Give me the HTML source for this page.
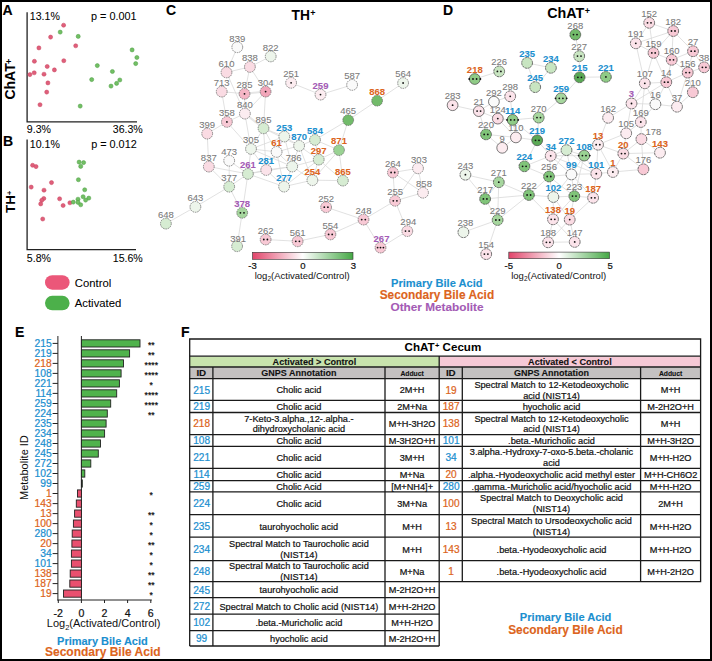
<!DOCTYPE html>
<html><head><meta charset="utf-8"><style>
html,body{margin:0;padding:0;background:#fff;}
svg{display:block;font-family:"Liberation Sans", sans-serif;}
</style></head><body>
<svg width="712" height="661" viewBox="0 0 712 661">
<rect width="712" height="661" fill="#fff"/>
<text x="2.6" y="15.0" font-size="14" fill="#000" stroke="#000" stroke-width="0.12" text-anchor="start" font-weight="bold" >A</text>
<text x="3.0" y="146.0" font-size="14" fill="#000" stroke="#000" stroke-width="0.12" text-anchor="start" font-weight="bold" >B</text>
<text x="166.0" y="15.0" font-size="14" fill="#000" stroke="#000" stroke-width="0.12" text-anchor="start" font-weight="bold" >C</text>
<text x="443.0" y="15.0" font-size="14" fill="#000" stroke="#000" stroke-width="0.12" text-anchor="start" font-weight="bold" >D</text>
<text x="15.0" y="337.0" font-size="14" fill="#000" stroke="#000" stroke-width="0.12" text-anchor="start" font-weight="bold" >E</text>
<text x="181.0" y="337.0" font-size="14" fill="#000" stroke="#000" stroke-width="0.12" text-anchor="start" font-weight="bold" >F</text>
<g stroke="#222" stroke-width="1.3" fill="none">
<polyline points="27.1,12.2 27.1,121.8 137,121.8"/>
<polyline points="27.1,139.6 27.1,249.6 136,249.6"/>
</g>
<text x="29.8" y="19.9" font-size="10.6" fill="#000" stroke="#000" stroke-width="0.06" text-anchor="start" font-weight="normal" >13.1%</text>
<text x="91.0" y="19.9" font-size="10.85" fill="#000" stroke="#000" stroke-width="0.06" text-anchor="start" font-weight="normal" >p = 0.001</text>
<text x="26.8" y="132.9" font-size="10.6" fill="#000" stroke="#000" stroke-width="0.06" text-anchor="start" font-weight="normal" >9.3%</text>
<text x="142.8" y="132.9" font-size="10.6" fill="#000" stroke="#000" stroke-width="0.06" text-anchor="end" font-weight="normal" >36.3%</text>
<text x="29.8" y="147.9" font-size="10.6" fill="#000" stroke="#000" stroke-width="0.06" text-anchor="start" font-weight="normal" >10.1%</text>
<text x="91.2" y="147.9" font-size="10.85" fill="#000" stroke="#000" stroke-width="0.06" text-anchor="start" font-weight="normal" >p = 0.012</text>
<text x="26.8" y="261.6" font-size="10.6" fill="#000" stroke="#000" stroke-width="0.06" text-anchor="start" font-weight="normal" >5.8%</text>
<text x="142.8" y="261.6" font-size="10.6" fill="#000" stroke="#000" stroke-width="0.06" text-anchor="end" font-weight="normal" >15.6%</text>
<text transform="translate(15.3,99.6) rotate(-90)" font-size="14" font-weight="bold">ChAT<tspan font-size="9" dy="-3.6" dx="-0.6">+</tspan></text>
<text transform="translate(14.9,212.9) rotate(-90)" font-size="13.4" font-weight="bold">TH<tspan font-size="8" dy="-3.3" dx="-0.3">+</tspan></text>
<circle cx="63.6" cy="25.2" r="2.05" fill="#df5f7b" stroke="#c9445f" stroke-width="0.5"/>
<circle cx="50.6" cy="37.1" r="2.05" fill="#df5f7b" stroke="#c9445f" stroke-width="0.5"/>
<circle cx="38.9" cy="47.9" r="2.05" fill="#df5f7b" stroke="#c9445f" stroke-width="0.5"/>
<circle cx="75.7" cy="45.8" r="2.05" fill="#df5f7b" stroke="#c9445f" stroke-width="0.5"/>
<circle cx="34.4" cy="61.3" r="2.05" fill="#df5f7b" stroke="#c9445f" stroke-width="0.5"/>
<circle cx="63.8" cy="60.7" r="2.05" fill="#df5f7b" stroke="#c9445f" stroke-width="0.5"/>
<circle cx="47.2" cy="66.5" r="2.05" fill="#df5f7b" stroke="#c9445f" stroke-width="0.5"/>
<circle cx="54.4" cy="69.9" r="2.05" fill="#df5f7b" stroke="#c9445f" stroke-width="0.5"/>
<circle cx="29.9" cy="74.6" r="2.05" fill="#df5f7b" stroke="#c9445f" stroke-width="0.5"/>
<circle cx="34.2" cy="72.8" r="2.05" fill="#df5f7b" stroke="#c9445f" stroke-width="0.5"/>
<circle cx="44.0" cy="74.2" r="2.05" fill="#df5f7b" stroke="#c9445f" stroke-width="0.5"/>
<circle cx="47.9" cy="82.9" r="2.05" fill="#df5f7b" stroke="#c9445f" stroke-width="0.5"/>
<circle cx="46.7" cy="92.1" r="2.05" fill="#df5f7b" stroke="#c9445f" stroke-width="0.5"/>
<circle cx="40.0" cy="104.7" r="2.05" fill="#df5f7b" stroke="#c9445f" stroke-width="0.5"/>
<circle cx="60.2" cy="32.1" r="2.05" fill="#72bf64" stroke="#4d9c44" stroke-width="0.5"/>
<circle cx="78.2" cy="36.4" r="2.05" fill="#72bf64" stroke="#4d9c44" stroke-width="0.5"/>
<circle cx="132.1" cy="49.9" r="2.05" fill="#72bf64" stroke="#4d9c44" stroke-width="0.5"/>
<circle cx="136.9" cy="57.5" r="2.05" fill="#72bf64" stroke="#4d9c44" stroke-width="0.5"/>
<circle cx="135.7" cy="63.6" r="2.05" fill="#72bf64" stroke="#4d9c44" stroke-width="0.5"/>
<circle cx="97.3" cy="65.6" r="2.05" fill="#72bf64" stroke="#4d9c44" stroke-width="0.5"/>
<circle cx="112.4" cy="71.5" r="2.05" fill="#72bf64" stroke="#4d9c44" stroke-width="0.5"/>
<circle cx="91.7" cy="79.6" r="2.05" fill="#72bf64" stroke="#4d9c44" stroke-width="0.5"/>
<circle cx="119.8" cy="80.0" r="2.05" fill="#72bf64" stroke="#4d9c44" stroke-width="0.5"/>
<circle cx="116.6" cy="83.4" r="2.05" fill="#72bf64" stroke="#4d9c44" stroke-width="0.5"/>
<circle cx="111.0" cy="86.1" r="2.05" fill="#72bf64" stroke="#4d9c44" stroke-width="0.5"/>
<circle cx="80.2" cy="106.1" r="2.05" fill="#72bf64" stroke="#4d9c44" stroke-width="0.5"/>
<circle cx="32.6" cy="165.3" r="2.05" fill="#df5f7b" stroke="#c9445f" stroke-width="0.5"/>
<circle cx="36.0" cy="166.6" r="2.05" fill="#df5f7b" stroke="#c9445f" stroke-width="0.5"/>
<circle cx="31.2" cy="187.1" r="2.05" fill="#df5f7b" stroke="#c9445f" stroke-width="0.5"/>
<circle cx="51.5" cy="182.6" r="2.05" fill="#df5f7b" stroke="#c9445f" stroke-width="0.5"/>
<circle cx="44.0" cy="190.2" r="2.05" fill="#df5f7b" stroke="#c9445f" stroke-width="0.5"/>
<circle cx="43.8" cy="198.5" r="2.05" fill="#df5f7b" stroke="#c9445f" stroke-width="0.5"/>
<circle cx="41.8" cy="200.3" r="2.05" fill="#df5f7b" stroke="#c9445f" stroke-width="0.5"/>
<circle cx="40.7" cy="203.9" r="2.05" fill="#df5f7b" stroke="#c9445f" stroke-width="0.5"/>
<circle cx="59.6" cy="198.8" r="2.05" fill="#df5f7b" stroke="#c9445f" stroke-width="0.5"/>
<circle cx="63.1" cy="205.5" r="2.05" fill="#df5f7b" stroke="#c9445f" stroke-width="0.5"/>
<circle cx="69.9" cy="202.8" r="2.05" fill="#df5f7b" stroke="#c9445f" stroke-width="0.5"/>
<circle cx="42.7" cy="219.0" r="2.05" fill="#df5f7b" stroke="#c9445f" stroke-width="0.5"/>
<circle cx="79.1" cy="162.1" r="2.05" fill="#72bf64" stroke="#4d9c44" stroke-width="0.5"/>
<circle cx="83.6" cy="162.6" r="2.05" fill="#72bf64" stroke="#4d9c44" stroke-width="0.5"/>
<circle cx="80.7" cy="166.4" r="2.05" fill="#72bf64" stroke="#4d9c44" stroke-width="0.5"/>
<circle cx="78.4" cy="179.7" r="2.05" fill="#72bf64" stroke="#4d9c44" stroke-width="0.5"/>
<circle cx="84.7" cy="189.8" r="2.05" fill="#72bf64" stroke="#4d9c44" stroke-width="0.5"/>
<circle cx="83.1" cy="196.7" r="2.05" fill="#72bf64" stroke="#4d9c44" stroke-width="0.5"/>
<circle cx="88.8" cy="198.1" r="2.05" fill="#72bf64" stroke="#4d9c44" stroke-width="0.5"/>
<circle cx="85.6" cy="200.1" r="2.05" fill="#72bf64" stroke="#4d9c44" stroke-width="0.5"/>
<circle cx="78.0" cy="199.2" r="2.05" fill="#72bf64" stroke="#4d9c44" stroke-width="0.5"/>
<circle cx="73.3" cy="202.1" r="2.05" fill="#72bf64" stroke="#4d9c44" stroke-width="0.5"/>
<circle cx="78.0" cy="202.4" r="2.05" fill="#72bf64" stroke="#4d9c44" stroke-width="0.5"/>
<circle cx="80.7" cy="204.8" r="2.05" fill="#72bf64" stroke="#4d9c44" stroke-width="0.5"/>
<rect x="45" y="275.2" width="24.6" height="14.5" rx="7.25" fill="#eb5779"/>
<rect x="45" y="295.8" width="24.6" height="14.5" rx="7.25" fill="#4cb04a"/>
<text x="74.8" y="287.3" font-size="11.3" fill="#000" stroke="#000" stroke-width="0.06" text-anchor="start" font-weight="normal" >Control</text>
<text x="74.8" y="307.3" font-size="11.3" fill="#000" stroke="#000" stroke-width="0.06" text-anchor="start" font-weight="normal" >Activated</text>
<g stroke="#d9d9d9" stroke-width="0.8" fill="none">
<line x1="237.3" y1="47.2" x2="226.5" y2="72.4"/>
<line x1="249.9" y1="66.9" x2="270.7" y2="56.4"/>
<line x1="249.9" y1="66.9" x2="226.5" y2="72.4"/>
<line x1="249.9" y1="66.9" x2="244.5" y2="93.8"/>
<line x1="249.9" y1="66.9" x2="265.6" y2="91.6"/>
<line x1="226.5" y1="72.4" x2="244.9" y2="113.6"/>
<line x1="221.7" y1="91.6" x2="244.5" y2="93.8"/>
<line x1="221.7" y1="91.6" x2="226.9" y2="121.9"/>
<line x1="244.5" y1="93.8" x2="265.6" y2="91.6" stroke-width="2" stroke="#e6e6e6"/>
<line x1="244.5" y1="93.8" x2="244.9" y2="113.6"/>
<line x1="265.6" y1="91.6" x2="244.9" y2="113.6"/>
<line x1="265.6" y1="91.6" x2="263.5" y2="128.3"/>
<line x1="244.9" y1="113.6" x2="226.9" y2="121.9"/>
<line x1="244.9" y1="113.6" x2="263.5" y2="128.3" stroke-width="2" stroke="#e6e6e6"/>
<line x1="226.9" y1="121.9" x2="207.2" y2="133.6"/>
<line x1="226.9" y1="121.9" x2="251.0" y2="148.9"/>
<line x1="207.2" y1="133.6" x2="208.8" y2="166.6"/>
<line x1="208.8" y1="166.6" x2="247.9" y2="173.9"/>
<line x1="208.8" y1="166.6" x2="229.2" y2="186.7"/>
<line x1="229.2" y1="160.7" x2="229.2" y2="186.7"/>
<line x1="229.2" y1="160.7" x2="247.9" y2="173.9"/>
<line x1="229.2" y1="186.7" x2="247.9" y2="173.9"/>
<line x1="229.2" y1="186.7" x2="195.4" y2="206.9"/>
<line x1="229.2" y1="186.7" x2="242.2" y2="212.8"/>
<line x1="195.4" y1="206.9" x2="165.9" y2="223.6"/>
<line x1="242.2" y1="212.8" x2="247.9" y2="173.9"/>
<line x1="242.2" y1="212.8" x2="237.1" y2="246.2"/>
<line x1="247.9" y1="173.9" x2="251.0" y2="148.9"/>
<line x1="247.9" y1="173.9" x2="266.2" y2="170.0"/>
<line x1="247.9" y1="173.9" x2="284.1" y2="186.6"/>
<line x1="251.0" y1="148.9" x2="263.5" y2="128.3"/>
<line x1="251.0" y1="148.9" x2="276.6" y2="151.9"/>
<line x1="251.0" y1="148.9" x2="266.2" y2="170.0"/>
<line x1="251.0" y1="148.9" x2="284.3" y2="136.5"/>
<line x1="263.5" y1="128.3" x2="284.3" y2="136.5"/>
<line x1="263.5" y1="128.3" x2="276.6" y2="151.9"/>
<line x1="263.5" y1="128.3" x2="299.1" y2="145.8"/>
<line x1="284.3" y1="136.5" x2="299.1" y2="145.8"/>
<line x1="284.3" y1="136.5" x2="276.6" y2="151.9"/>
<line x1="284.3" y1="136.5" x2="292.2" y2="166.5"/>
<line x1="284.3" y1="136.5" x2="266.2" y2="170.0"/>
<line x1="276.6" y1="151.9" x2="299.1" y2="145.8"/>
<line x1="276.6" y1="151.9" x2="266.2" y2="170.0"/>
<line x1="276.6" y1="151.9" x2="292.2" y2="166.5"/>
<line x1="276.6" y1="151.9" x2="284.1" y2="186.6"/>
<line x1="266.2" y1="170.0" x2="292.2" y2="166.5"/>
<line x1="266.2" y1="170.0" x2="284.1" y2="186.6"/>
<line x1="292.2" y1="166.5" x2="299.1" y2="145.8"/>
<line x1="292.2" y1="166.5" x2="284.1" y2="186.6"/>
<line x1="292.2" y1="166.5" x2="318.7" y2="159.6"/>
<line x1="292.2" y1="166.5" x2="312.4" y2="180.2"/>
<line x1="299.1" y1="145.8" x2="315.0" y2="139.9"/>
<line x1="299.1" y1="145.8" x2="318.7" y2="159.6"/>
<line x1="299.1" y1="145.8" x2="312.4" y2="180.2"/>
<line x1="315.0" y1="139.9" x2="318.7" y2="159.6"/>
<line x1="315.0" y1="139.9" x2="348.2" y2="120.1"/>
<line x1="315.0" y1="139.9" x2="339.0" y2="150.1"/>
<line x1="348.2" y1="120.1" x2="339.0" y2="150.1"/>
<line x1="348.2" y1="120.1" x2="377.1" y2="100.7"/>
<line x1="377.1" y1="100.7" x2="403.1" y2="83.0"/>
<line x1="339.0" y1="150.1" x2="318.7" y2="159.6"/>
<line x1="339.0" y1="150.1" x2="342.9" y2="180.6"/>
<line x1="339.0" y1="150.1" x2="312.4" y2="180.2"/>
<line x1="318.7" y1="159.6" x2="312.4" y2="180.2"/>
<line x1="318.7" y1="159.6" x2="342.9" y2="180.6"/>
<line x1="312.4" y1="180.2" x2="342.9" y2="180.6"/>
<line x1="312.4" y1="180.2" x2="284.1" y2="186.6"/>
<line x1="284.1" y1="186.6" x2="318.7" y2="159.6"/>
<line x1="247.9" y1="173.9" x2="292.2" y2="166.5"/>
<line x1="251.0" y1="148.9" x2="292.2" y2="166.5"/>
<line x1="263.5" y1="128.3" x2="266.2" y2="170.0"/>
<line x1="244.9" y1="113.6" x2="251.0" y2="148.9"/>
<line x1="291.1" y1="82.8" x2="320.5" y2="94.6"/>
<line x1="320.5" y1="94.6" x2="352.1" y2="84.9"/>
<line x1="265.6" y1="239.5" x2="297.6" y2="241.3"/>
<line x1="297.6" y1="241.3" x2="330.4" y2="234.4"/>
<line x1="330.4" y1="234.4" x2="363.5" y2="219.6"/>
<line x1="363.5" y1="219.6" x2="326.1" y2="207.2"/>
<line x1="363.5" y1="219.6" x2="395.1" y2="200.8"/>
<line x1="363.5" y1="219.6" x2="380.5" y2="247.6"/>
<line x1="380.5" y1="247.6" x2="407.3" y2="231.1"/>
<line x1="407.3" y1="231.1" x2="395.1" y2="200.8"/>
<line x1="395.1" y1="200.8" x2="392.9" y2="172.5"/>
<line x1="395.1" y1="200.8" x2="418.0" y2="168.3"/>
<line x1="395.1" y1="200.8" x2="423.0" y2="192.7"/>
<line x1="392.9" y1="172.5" x2="418.0" y2="168.3"/>
<line x1="392.9" y1="172.5" x2="423.0" y2="192.7"/>
<line x1="418.0" y1="168.3" x2="423.0" y2="192.7"/>
</g>
<circle cx="237.3" cy="47.2" r="5.4" fill="#fafafa" stroke="#555" stroke-width="0.65" stroke-dasharray="1.6 0.8"/>
<text x="237.3" y="41.5" font-size="9.5" fill="#7a7a7a" stroke="#7a7a7a" stroke-width="0.08" text-anchor="middle" font-weight="normal" >839</text>
<circle cx="270.7" cy="56.4" r="5.4" fill="#edf5eb" stroke="#555" stroke-width="0.65" stroke-dasharray="1.6 0.8"/>
<text x="270.7" y="50.7" font-size="9.5" fill="#7a7a7a" stroke="#7a7a7a" stroke-width="0.08" text-anchor="middle" font-weight="normal" >822</text>
<circle cx="249.9" cy="66.9" r="5.4" fill="#fadbe3" stroke="#555" stroke-width="0.65" stroke-dasharray="1.6 0.8"/>
<text x="249.9" y="61.2" font-size="9.5" fill="#7a7a7a" stroke="#7a7a7a" stroke-width="0.08" text-anchor="middle" font-weight="normal" >838</text>
<circle cx="226.5" cy="72.4" r="5.4" fill="#fadbe3" stroke="#555" stroke-width="0.65" stroke-dasharray="1.6 0.8"/>
<text x="226.5" y="66.7" font-size="9.5" fill="#7a7a7a" stroke="#7a7a7a" stroke-width="0.08" text-anchor="middle" font-weight="normal" >610</text>
<circle cx="291.1" cy="82.8" r="5.4" fill="#fcecf0" stroke="#555" stroke-width="0.65" stroke-dasharray="1.6 0.8"/>
<circle cx="291.1" cy="82.8" r="0.9" fill="#111"/>
<text x="291.1" y="77.1" font-size="9.5" fill="#7a7a7a" stroke="#7a7a7a" stroke-width="0.08" text-anchor="middle" font-weight="normal" >251</text>
<circle cx="221.7" cy="91.6" r="5.4" fill="#fadbe3" stroke="#555" stroke-width="0.65" stroke-dasharray="1.6 0.8"/>
<text x="221.7" y="85.9" font-size="9.5" fill="#7a7a7a" stroke="#7a7a7a" stroke-width="0.08" text-anchor="middle" font-weight="normal" >713</text>
<circle cx="244.5" cy="93.8" r="5.4" fill="#f5b5c5" stroke="#555" stroke-width="0.65" stroke-dasharray="1.6 0.8"/>
<circle cx="244.5" cy="93.8" r="0.9" fill="#111"/>
<text x="244.5" y="88.1" font-size="9.5" fill="#7a7a7a" stroke="#7a7a7a" stroke-width="0.08" text-anchor="middle" font-weight="normal" >285</text>
<circle cx="265.6" cy="91.6" r="5.4" fill="#f2a6ba" stroke="#555" stroke-width="0.65" stroke-dasharray="1.6 0.8"/>
<circle cx="265.6" cy="91.6" r="0.9" fill="#111"/>
<text x="265.6" y="85.9" font-size="9.5" fill="#7a7a7a" stroke="#7a7a7a" stroke-width="0.08" text-anchor="middle" font-weight="normal" >304</text>
<circle cx="244.9" cy="113.6" r="5.4" fill="#fcecf0" stroke="#555" stroke-width="0.65" stroke-dasharray="1.6 0.8"/>
<text x="244.9" y="107.9" font-size="9.5" fill="#7a7a7a" stroke="#7a7a7a" stroke-width="0.08" text-anchor="middle" font-weight="normal" >840</text>
<circle cx="226.9" cy="121.9" r="5.4" fill="#f8c9d5" stroke="#555" stroke-width="0.65" stroke-dasharray="1.6 0.8"/>
<circle cx="226.9" cy="121.9" r="0.9" fill="#111"/>
<text x="226.9" y="116.2" font-size="9.5" fill="#7a7a7a" stroke="#7a7a7a" stroke-width="0.08" text-anchor="middle" font-weight="normal" >358</text>
<circle cx="263.5" cy="128.3" r="5.4" fill="#d6ecd2" stroke="#555" stroke-width="0.65" stroke-dasharray="1.6 0.8"/>
<text x="263.5" y="122.6" font-size="9.5" fill="#7a7a7a" stroke="#7a7a7a" stroke-width="0.08" text-anchor="middle" font-weight="normal" >895</text>
<circle cx="207.2" cy="133.6" r="5.4" fill="#fadbe3" stroke="#555" stroke-width="0.65" stroke-dasharray="1.6 0.8"/>
<text x="207.2" y="127.9" font-size="9.5" fill="#7a7a7a" stroke="#7a7a7a" stroke-width="0.08" text-anchor="middle" font-weight="normal" >399</text>
<circle cx="284.3" cy="136.5" r="5.4" fill="#edf5eb" stroke="#555" stroke-width="0.65" stroke-dasharray="1.6 0.8"/>
<text x="284.3" y="130.8" font-size="9.5" fill="#1b8fcf" stroke="#1b8fcf" stroke-width="0.08" text-anchor="middle" font-weight="bold" >253</text>
<circle cx="299.1" cy="145.8" r="5.4" fill="#edf5eb" stroke="#555" stroke-width="0.65" stroke-dasharray="1.6 0.8"/>
<text x="299.1" y="140.1" font-size="9.5" fill="#1b8fcf" stroke="#1b8fcf" stroke-width="0.08" text-anchor="middle" font-weight="bold" >870</text>
<circle cx="251.0" cy="148.9" r="5.4" fill="#edf5eb" stroke="#555" stroke-width="0.65" stroke-dasharray="1.6 0.8"/>
<text x="251.0" y="143.2" font-size="9.5" fill="#7a7a7a" stroke="#7a7a7a" stroke-width="0.08" text-anchor="middle" font-weight="normal" >305</text>
<circle cx="276.6" cy="151.9" r="5.4" fill="#fafafa" stroke="#555" stroke-width="0.65" stroke-dasharray="1.6 0.8"/>
<text x="276.6" y="146.2" font-size="9.5" fill="#dc6420" stroke="#dc6420" stroke-width="0.08" text-anchor="middle" font-weight="bold" >61</text>
<circle cx="229.2" cy="160.7" r="5.4" fill="#fafafa" stroke="#555" stroke-width="0.65" stroke-dasharray="1.6 0.8"/>
<text x="229.2" y="155.0" font-size="9.5" fill="#7a7a7a" stroke="#7a7a7a" stroke-width="0.08" text-anchor="middle" font-weight="normal" >473</text>
<circle cx="208.8" cy="166.6" r="5.4" fill="#fadbe3" stroke="#555" stroke-width="0.65" stroke-dasharray="1.6 0.8"/>
<text x="208.8" y="160.9" font-size="9.5" fill="#7a7a7a" stroke="#7a7a7a" stroke-width="0.08" text-anchor="middle" font-weight="normal" >837</text>
<circle cx="247.9" cy="173.9" r="5.4" fill="#d6ecd2" stroke="#555" stroke-width="0.65" stroke-dasharray="1.6 0.8"/>
<text x="247.9" y="168.2" font-size="9.5" fill="#a45bb5" stroke="#a45bb5" stroke-width="0.08" text-anchor="middle" font-weight="bold" >261</text>
<circle cx="266.2" cy="170.0" r="5.4" fill="#fbe3ea" stroke="#555" stroke-width="0.65" stroke-dasharray="1.6 0.8"/>
<text x="266.2" y="164.3" font-size="9.5" fill="#1b8fcf" stroke="#1b8fcf" stroke-width="0.08" text-anchor="middle" font-weight="bold" >281</text>
<circle cx="292.2" cy="166.5" r="5.4" fill="#edf5eb" stroke="#555" stroke-width="0.65" stroke-dasharray="1.6 0.8"/>
<text x="293.7" y="160.8" font-size="9.5" fill="#7a7a7a" stroke="#7a7a7a" stroke-width="0.08" text-anchor="middle" font-weight="normal" >786</text>
<circle cx="229.2" cy="186.7" r="5.4" fill="#d6ecd2" stroke="#555" stroke-width="0.65" stroke-dasharray="1.6 0.8"/>
<text x="229.2" y="181.0" font-size="9.5" fill="#7a7a7a" stroke="#7a7a7a" stroke-width="0.08" text-anchor="middle" font-weight="normal" >377</text>
<circle cx="284.1" cy="186.6" r="5.4" fill="#edf5eb" stroke="#555" stroke-width="0.65" stroke-dasharray="1.6 0.8"/>
<text x="284.1" y="180.9" font-size="9.5" fill="#1b8fcf" stroke="#1b8fcf" stroke-width="0.08" text-anchor="middle" font-weight="bold" >277</text>
<circle cx="195.4" cy="206.9" r="5.4" fill="#edf5eb" stroke="#555" stroke-width="0.65" stroke-dasharray="1.6 0.8"/>
<text x="195.4" y="201.2" font-size="9.5" fill="#7a7a7a" stroke="#7a7a7a" stroke-width="0.08" text-anchor="middle" font-weight="normal" >643</text>
<circle cx="242.2" cy="212.8" r="5.4" fill="#a6d69e" stroke="#555" stroke-width="0.65" stroke-dasharray="1.6 0.8"/>
<circle cx="240.4" cy="212.8" r="0.9" fill="#111"/>
<circle cx="244.0" cy="212.8" r="0.9" fill="#111"/>
<text x="242.2" y="207.1" font-size="9.5" fill="#a45bb5" stroke="#a45bb5" stroke-width="0.08" text-anchor="middle" font-weight="bold" >378</text>
<circle cx="165.9" cy="223.6" r="5.4" fill="#d6ecd2" stroke="#555" stroke-width="0.65" stroke-dasharray="1.6 0.8"/>
<text x="165.9" y="217.9" font-size="9.5" fill="#7a7a7a" stroke="#7a7a7a" stroke-width="0.08" text-anchor="middle" font-weight="normal" >648</text>
<circle cx="237.1" cy="246.2" r="5.4" fill="#d6ecd2" stroke="#555" stroke-width="0.65" stroke-dasharray="1.6 0.8"/>
<text x="238.1" y="241.5" font-size="9.5" fill="#7a7a7a" stroke="#7a7a7a" stroke-width="0.08" text-anchor="middle" font-weight="normal" >391</text>
<circle cx="265.6" cy="239.5" r="5.4" fill="#f8c9d5" stroke="#555" stroke-width="0.65" stroke-dasharray="1.6 0.8"/>
<circle cx="263.8" cy="239.5" r="0.9" fill="#111"/>
<circle cx="267.4" cy="239.5" r="0.9" fill="#111"/>
<text x="265.6" y="233.8" font-size="9.5" fill="#7a7a7a" stroke="#7a7a7a" stroke-width="0.08" text-anchor="middle" font-weight="normal" >262</text>
<circle cx="297.6" cy="241.3" r="5.4" fill="#f8c9d5" stroke="#555" stroke-width="0.65" stroke-dasharray="1.6 0.8"/>
<circle cx="295.8" cy="241.3" r="0.9" fill="#111"/>
<circle cx="299.4" cy="241.3" r="0.9" fill="#111"/>
<text x="297.6" y="235.6" font-size="9.5" fill="#7a7a7a" stroke="#7a7a7a" stroke-width="0.08" text-anchor="middle" font-weight="normal" >561</text>
<circle cx="330.4" cy="234.4" r="5.4" fill="#f8c9d5" stroke="#555" stroke-width="0.65" stroke-dasharray="1.6 0.8"/>
<circle cx="328.6" cy="234.4" r="0.9" fill="#111"/>
<circle cx="332.2" cy="234.4" r="0.9" fill="#111"/>
<text x="330.4" y="228.7" font-size="9.5" fill="#7a7a7a" stroke="#7a7a7a" stroke-width="0.08" text-anchor="middle" font-weight="normal" >554</text>
<circle cx="326.1" cy="207.2" r="5.4" fill="#f8c9d5" stroke="#555" stroke-width="0.65" stroke-dasharray="1.6 0.8"/>
<circle cx="324.3" cy="207.2" r="0.9" fill="#111"/>
<circle cx="327.9" cy="207.2" r="0.9" fill="#111"/>
<text x="326.1" y="201.5" font-size="9.5" fill="#7a7a7a" stroke="#7a7a7a" stroke-width="0.08" text-anchor="middle" font-weight="normal" >252</text>
<circle cx="363.5" cy="219.6" r="5.4" fill="#f8c9d5" stroke="#555" stroke-width="0.65" stroke-dasharray="1.6 0.8"/>
<circle cx="361.7" cy="219.6" r="0.9" fill="#111"/>
<circle cx="365.3" cy="219.6" r="0.9" fill="#111"/>
<text x="363.5" y="213.9" font-size="9.5" fill="#7a7a7a" stroke="#7a7a7a" stroke-width="0.08" text-anchor="middle" font-weight="normal" >248</text>
<circle cx="380.5" cy="247.6" r="5.4" fill="#f8c9d5" stroke="#555" stroke-width="0.65" stroke-dasharray="1.6 0.8"/>
<circle cx="377.6" cy="247.6" r="0.9" fill="#111"/>
<circle cx="380.5" cy="247.6" r="0.9" fill="#111"/>
<circle cx="383.4" cy="247.6" r="0.9" fill="#111"/>
<text x="381.5" y="241.9" font-size="9.5" fill="#a45bb5" stroke="#a45bb5" stroke-width="0.08" text-anchor="middle" font-weight="bold" >267</text>
<circle cx="407.3" cy="231.1" r="5.4" fill="#fadbe3" stroke="#555" stroke-width="0.65" stroke-dasharray="1.6 0.8"/>
<circle cx="405.5" cy="231.1" r="0.9" fill="#111"/>
<circle cx="409.1" cy="231.1" r="0.9" fill="#111"/>
<text x="408.3" y="225.4" font-size="9.5" fill="#7a7a7a" stroke="#7a7a7a" stroke-width="0.08" text-anchor="middle" font-weight="normal" >294</text>
<circle cx="395.1" cy="200.8" r="5.4" fill="#f8c9d5" stroke="#555" stroke-width="0.65" stroke-dasharray="1.6 0.8"/>
<circle cx="393.3" cy="200.8" r="0.9" fill="#111"/>
<circle cx="396.9" cy="200.8" r="0.9" fill="#111"/>
<text x="395.1" y="195.1" font-size="9.5" fill="#7a7a7a" stroke="#7a7a7a" stroke-width="0.08" text-anchor="middle" font-weight="normal" >255</text>
<circle cx="392.9" cy="172.5" r="5.4" fill="#f8c9d5" stroke="#555" stroke-width="0.65" stroke-dasharray="1.6 0.8"/>
<circle cx="391.1" cy="172.5" r="0.9" fill="#111"/>
<circle cx="394.7" cy="172.5" r="0.9" fill="#111"/>
<text x="392.9" y="166.8" font-size="9.5" fill="#7a7a7a" stroke="#7a7a7a" stroke-width="0.08" text-anchor="middle" font-weight="normal" >264</text>
<circle cx="418.0" cy="168.3" r="5.4" fill="#fcecf0" stroke="#555" stroke-width="0.65" stroke-dasharray="1.6 0.8"/>
<text x="419.0" y="162.6" font-size="9.5" fill="#7a7a7a" stroke="#7a7a7a" stroke-width="0.08" text-anchor="middle" font-weight="normal" >303</text>
<circle cx="423.0" cy="192.7" r="5.4" fill="#fcecf0" stroke="#555" stroke-width="0.65" stroke-dasharray="1.6 0.8"/>
<text x="424.0" y="187.0" font-size="9.5" fill="#7a7a7a" stroke="#7a7a7a" stroke-width="0.08" text-anchor="middle" font-weight="normal" >858</text>
<circle cx="320.5" cy="94.6" r="5.4" fill="#fcecf0" stroke="#555" stroke-width="0.65" stroke-dasharray="1.6 0.8"/>
<circle cx="320.5" cy="94.6" r="0.9" fill="#111"/>
<text x="320.5" y="88.9" font-size="9.5" fill="#a45bb5" stroke="#a45bb5" stroke-width="0.08" text-anchor="middle" font-weight="bold" >259</text>
<circle cx="352.1" cy="84.9" r="5.4" fill="#fafafa" stroke="#555" stroke-width="0.65" stroke-dasharray="1.6 0.8"/>
<text x="352.1" y="79.2" font-size="9.5" fill="#7a7a7a" stroke="#7a7a7a" stroke-width="0.08" text-anchor="middle" font-weight="normal" >587</text>
<circle cx="403.1" cy="83.0" r="5.4" fill="#edf5eb" stroke="#555" stroke-width="0.65" stroke-dasharray="1.6 0.8"/>
<circle cx="403.1" cy="83.0" r="0.9" fill="#111"/>
<text x="403.1" y="77.3" font-size="9.5" fill="#7a7a7a" stroke="#7a7a7a" stroke-width="0.08" text-anchor="middle" font-weight="normal" >564</text>
<circle cx="377.1" cy="100.7" r="5.4" fill="#72bb6a" stroke="#555" stroke-width="0.65" stroke-dasharray="1.6 0.8"/>
<text x="377.1" y="95.0" font-size="9.5" fill="#dc6420" stroke="#dc6420" stroke-width="0.08" text-anchor="middle" font-weight="bold" >868</text>
<circle cx="348.2" cy="120.1" r="5.4" fill="#72bb6a" stroke="#555" stroke-width="0.65" stroke-dasharray="1.6 0.8"/>
<text x="348.2" y="114.4" font-size="9.5" fill="#7a7a7a" stroke="#7a7a7a" stroke-width="0.08" text-anchor="middle" font-weight="normal" >465</text>
<circle cx="315.0" cy="139.9" r="5.4" fill="#d6ecd2" stroke="#555" stroke-width="0.65" stroke-dasharray="1.6 0.8"/>
<text x="315.0" y="134.2" font-size="9.5" fill="#1b8fcf" stroke="#1b8fcf" stroke-width="0.08" text-anchor="middle" font-weight="bold" >584</text>
<circle cx="339.0" cy="150.1" r="5.4" fill="#9ad293" stroke="#555" stroke-width="0.65" stroke-dasharray="1.6 0.8"/>
<text x="339.0" y="144.4" font-size="9.5" fill="#dc6420" stroke="#dc6420" stroke-width="0.08" text-anchor="middle" font-weight="bold" >871</text>
<circle cx="318.7" cy="159.6" r="5.4" fill="#d6ecd2" stroke="#555" stroke-width="0.65" stroke-dasharray="1.6 0.8"/>
<text x="318.7" y="153.9" font-size="9.5" fill="#dc6420" stroke="#dc6420" stroke-width="0.08" text-anchor="middle" font-weight="bold" >297</text>
<circle cx="312.4" cy="180.2" r="5.4" fill="#edf5eb" stroke="#555" stroke-width="0.65" stroke-dasharray="1.6 0.8"/>
<text x="312.4" y="174.5" font-size="9.5" fill="#dc6420" stroke="#dc6420" stroke-width="0.08" text-anchor="middle" font-weight="bold" >254</text>
<circle cx="342.9" cy="180.6" r="5.4" fill="#d6ecd2" stroke="#555" stroke-width="0.65" stroke-dasharray="1.6 0.8"/>
<text x="342.9" y="174.9" font-size="9.5" fill="#dc6420" stroke="#dc6420" stroke-width="0.08" text-anchor="middle" font-weight="bold" >865</text>
<g stroke="#d9d9d9" stroke-width="0.8" fill="none">
<line x1="575.3" y1="34.6" x2="579.2" y2="56.1"/>
<line x1="579.2" y1="56.1" x2="579.6" y2="77.3"/>
<line x1="579.6" y1="77.3" x2="605.9" y2="76.9"/>
<line x1="579.6" y1="77.3" x2="561.1" y2="98.3"/>
<line x1="527.1" y1="62.9" x2="550.9" y2="67.8"/>
<line x1="527.1" y1="62.9" x2="535.2" y2="87.1"/>
<line x1="550.9" y1="67.8" x2="535.2" y2="87.1"/>
<line x1="499.2" y1="71.4" x2="474.8" y2="79.0"/>
<line x1="452.6" y1="105.2" x2="478.8" y2="111.1"/>
<line x1="478.8" y1="111.1" x2="493.9" y2="101.7"/>
<line x1="478.8" y1="111.1" x2="497.8" y2="118.6"/>
<line x1="478.8" y1="111.1" x2="486.0" y2="134.4"/>
<line x1="493.9" y1="101.7" x2="510.2" y2="96.3"/>
<line x1="493.9" y1="101.7" x2="497.8" y2="118.6"/>
<line x1="510.2" y1="96.3" x2="512.6" y2="119.9"/>
<line x1="497.8" y1="118.6" x2="512.6" y2="119.9"/>
<line x1="497.8" y1="118.6" x2="486.0" y2="134.4"/>
<line x1="497.8" y1="118.6" x2="515.9" y2="137.4"/>
<line x1="512.6" y1="119.9" x2="538.7" y2="117.6"/>
<line x1="512.6" y1="119.9" x2="515.9" y2="137.4"/>
<line x1="512.6" y1="119.9" x2="537.2" y2="140.3"/>
<line x1="486.0" y1="134.4" x2="515.9" y2="137.4"/>
<line x1="486.0" y1="134.4" x2="502.2" y2="147.8"/>
<line x1="515.9" y1="137.4" x2="502.2" y2="147.8"/>
<line x1="515.9" y1="137.4" x2="537.2" y2="140.3"/>
<line x1="538.7" y1="117.6" x2="537.2" y2="140.3"/>
<line x1="538.7" y1="117.6" x2="561.1" y2="98.3"/>
<line x1="537.2" y1="140.3" x2="524.4" y2="166.3"/>
<line x1="465.4" y1="174.7" x2="498.8" y2="182.2"/>
<line x1="465.4" y1="174.7" x2="485.1" y2="198.9"/>
<line x1="498.8" y1="182.2" x2="485.1" y2="198.9"/>
<line x1="498.8" y1="182.2" x2="497.6" y2="220.0"/>
<line x1="498.8" y1="182.2" x2="528.9" y2="195.0"/>
<line x1="485.1" y1="198.9" x2="528.9" y2="195.0"/>
<line x1="485.1" y1="198.9" x2="497.6" y2="220.0"/>
<line x1="528.9" y1="195.0" x2="497.6" y2="220.0"/>
<line x1="528.9" y1="195.0" x2="553.4" y2="197.0"/>
<line x1="528.9" y1="195.0" x2="549.0" y2="176.5"/>
<line x1="528.9" y1="195.0" x2="553.0" y2="219.3"/>
<line x1="497.6" y1="220.0" x2="463.4" y2="232.2"/>
<line x1="497.6" y1="220.0" x2="486.2" y2="254.1"/>
<line x1="553.0" y1="219.3" x2="548.1" y2="242.3"/>
<line x1="553.0" y1="219.3" x2="574.7" y2="241.9"/>
<line x1="569.7" y1="219.6" x2="548.1" y2="242.3"/>
<line x1="569.7" y1="219.6" x2="574.7" y2="241.9"/>
<line x1="548.1" y1="242.3" x2="574.7" y2="241.9"/>
<line x1="524.4" y1="166.3" x2="549.0" y2="176.5"/>
<line x1="550.7" y1="155.8" x2="566.5" y2="150.1"/>
<line x1="550.7" y1="155.8" x2="549.0" y2="176.5"/>
<line x1="550.7" y1="155.8" x2="571.4" y2="174.4"/>
<line x1="550.7" y1="155.8" x2="584.2" y2="155.6"/>
<line x1="566.5" y1="150.1" x2="584.2" y2="155.6"/>
<line x1="566.5" y1="150.1" x2="571.4" y2="174.4"/>
<line x1="566.5" y1="150.1" x2="549.0" y2="176.5"/>
<line x1="566.5" y1="150.1" x2="596.3" y2="173.7"/>
<line x1="584.2" y1="155.6" x2="571.4" y2="174.4"/>
<line x1="584.2" y1="155.6" x2="596.3" y2="173.7"/>
<line x1="584.2" y1="155.6" x2="598.0" y2="144.7"/>
<line x1="584.2" y1="155.6" x2="574.3" y2="196.1"/>
<line x1="571.4" y1="174.4" x2="549.0" y2="176.5"/>
<line x1="571.4" y1="174.4" x2="553.4" y2="197.0"/>
<line x1="571.4" y1="174.4" x2="574.3" y2="196.1"/>
<line x1="571.4" y1="174.4" x2="596.3" y2="173.7"/>
<line x1="571.4" y1="174.4" x2="593.1" y2="197.8"/>
<line x1="549.0" y1="176.5" x2="553.4" y2="197.0"/>
<line x1="549.0" y1="176.5" x2="574.3" y2="196.1"/>
<line x1="553.4" y1="197.0" x2="574.3" y2="196.1"/>
<line x1="553.4" y1="197.0" x2="553.0" y2="219.3"/>
<line x1="553.4" y1="197.0" x2="569.7" y2="219.6"/>
<line x1="574.3" y1="196.1" x2="593.1" y2="197.8"/>
<line x1="574.3" y1="196.1" x2="569.7" y2="219.6"/>
<line x1="574.3" y1="196.1" x2="553.0" y2="219.3"/>
<line x1="593.1" y1="197.8" x2="569.7" y2="219.6"/>
<line x1="593.1" y1="197.8" x2="596.3" y2="173.7"/>
<line x1="596.3" y1="173.7" x2="612.9" y2="172.0"/>
<line x1="596.3" y1="173.7" x2="598.0" y2="144.7"/>
<line x1="598.0" y1="144.7" x2="612.9" y2="172.0"/>
<line x1="598.0" y1="144.7" x2="623.3" y2="153.6"/>
<line x1="598.0" y1="144.7" x2="626.2" y2="133.3"/>
<line x1="598.0" y1="144.7" x2="608.1" y2="117.8"/>
<line x1="623.3" y1="153.6" x2="626.2" y2="133.3"/>
<line x1="623.3" y1="153.6" x2="660.0" y2="152.7"/>
<line x1="623.3" y1="153.6" x2="612.9" y2="172.0"/>
<line x1="623.3" y1="153.6" x2="643.4" y2="169.3"/>
<line x1="623.3" y1="153.6" x2="641.4" y2="139.1"/>
<line x1="641.4" y1="139.1" x2="660.0" y2="152.7"/>
<line x1="641.4" y1="139.1" x2="640.8" y2="122.0"/>
<line x1="641.4" y1="139.1" x2="643.4" y2="169.3"/>
<line x1="612.9" y1="172.0" x2="643.4" y2="169.3"/>
<line x1="640.8" y1="122.0" x2="626.2" y2="133.3"/>
<line x1="640.8" y1="122.0" x2="631.5" y2="103.5"/>
<line x1="608.1" y1="117.8" x2="631.5" y2="103.5"/>
<line x1="626.2" y1="133.3" x2="631.5" y2="103.5"/>
<line x1="649.2" y1="22.8" x2="673.2" y2="31.0"/>
<line x1="649.2" y1="22.8" x2="635.8" y2="43.3"/>
<line x1="649.2" y1="22.8" x2="653.5" y2="52.9"/>
<line x1="673.2" y1="31.0" x2="653.5" y2="52.9"/>
<line x1="673.2" y1="31.0" x2="671.7" y2="59.8"/>
<line x1="673.2" y1="31.0" x2="693.0" y2="51.2"/>
<line x1="635.8" y1="43.3" x2="653.5" y2="52.9"/>
<line x1="635.8" y1="43.3" x2="644.8" y2="83.3"/>
<line x1="653.5" y1="52.9" x2="671.7" y2="59.8"/>
<line x1="653.5" y1="52.9" x2="666.3" y2="82.2"/>
<line x1="653.5" y1="52.9" x2="644.8" y2="83.3"/>
<line x1="671.7" y1="59.8" x2="693.0" y2="51.2"/>
<line x1="671.7" y1="59.8" x2="687.7" y2="72.6"/>
<line x1="671.7" y1="59.8" x2="666.3" y2="82.2"/>
<line x1="693.0" y1="51.2" x2="704.1" y2="67.3"/>
<line x1="693.0" y1="51.2" x2="687.7" y2="72.6"/>
<line x1="687.7" y1="72.6" x2="666.3" y2="82.2"/>
<line x1="687.7" y1="72.6" x2="692.8" y2="92.2"/>
<line x1="687.7" y1="72.6" x2="677.0" y2="106.7"/>
<line x1="635.8" y1="43.3" x2="673.2" y2="31.0"/>
<line x1="644.8" y1="83.3" x2="655.4" y2="104.2"/>
<line x1="692.8" y1="92.2" x2="677.0" y2="106.7"/>
<line x1="666.3" y1="82.2" x2="644.8" y2="83.3"/>
<line x1="666.3" y1="82.2" x2="631.5" y2="103.5"/>
<line x1="666.3" y1="82.2" x2="655.4" y2="104.2"/>
<line x1="666.3" y1="82.2" x2="677.0" y2="106.7"/>
<line x1="644.8" y1="83.3" x2="631.5" y2="103.5"/>
<line x1="644.8" y1="83.3" x2="640.8" y2="122.0"/>
<line x1="631.5" y1="103.5" x2="655.4" y2="104.2"/>
<line x1="655.4" y1="104.2" x2="677.0" y2="106.7"/>
<line x1="655.4" y1="104.2" x2="640.8" y2="122.0"/>
<line x1="704.1" y1="67.3" x2="687.7" y2="72.6"/>
<line x1="550.7" y1="155.8" x2="596.3" y2="173.7"/>
<line x1="537.2" y1="140.3" x2="550.7" y2="155.8"/>
<line x1="524.4" y1="166.3" x2="550.7" y2="155.8"/>
</g>
<circle cx="575.3" cy="34.6" r="5.4" fill="#72bb6a" stroke="#3a3a3a" stroke-width="0.7" stroke-dasharray="2.2 0.6"/>
<circle cx="573.5" cy="34.6" r="0.9" fill="#111"/>
<circle cx="577.0" cy="34.6" r="0.9" fill="#111"/>
<text x="575.3" y="28.5" font-size="9.5" fill="#7a7a7a" stroke="#7a7a7a" stroke-width="0.08" text-anchor="middle" font-weight="normal" >268</text>
<circle cx="579.2" cy="56.1" r="5.4" fill="#c8e5c1" stroke="#3a3a3a" stroke-width="0.7" stroke-dasharray="2.2 0.6"/>
<circle cx="577.5" cy="56.1" r="0.9" fill="#111"/>
<circle cx="581.0" cy="56.1" r="0.9" fill="#111"/>
<text x="579.2" y="50.0" font-size="9.5" fill="#7a7a7a" stroke="#7a7a7a" stroke-width="0.08" text-anchor="middle" font-weight="normal" >227</text>
<circle cx="579.6" cy="77.3" r="5.4" fill="#5aa955" stroke="#3a3a3a" stroke-width="0.7" stroke-dasharray="2.2 0.6"/>
<circle cx="577.9" cy="77.3" r="0.9" fill="#111"/>
<circle cx="581.4" cy="77.3" r="0.9" fill="#111"/>
<text x="579.6" y="71.2" font-size="9.5" fill="#1b8fcf" stroke="#1b8fcf" stroke-width="0.08" text-anchor="middle" font-weight="bold" >215</text>
<circle cx="605.9" cy="76.9" r="5.4" fill="#8fcb86" stroke="#3a3a3a" stroke-width="0.7" stroke-dasharray="2.2 0.6"/>
<circle cx="605.9" cy="76.9" r="0.9" fill="#111"/>
<text x="605.9" y="70.8" font-size="9.5" fill="#1b8fcf" stroke="#1b8fcf" stroke-width="0.08" text-anchor="middle" font-weight="bold" >221</text>
<circle cx="527.1" cy="62.9" r="5.4" fill="#c8e5c1" stroke="#3a3a3a" stroke-width="0.7" stroke-dasharray="2.2 0.6"/>
<text x="527.1" y="56.8" font-size="9.5" fill="#1b8fcf" stroke="#1b8fcf" stroke-width="0.08" text-anchor="middle" font-weight="bold" >235</text>
<circle cx="550.9" cy="67.8" r="5.4" fill="#c8e5c1" stroke="#3a3a3a" stroke-width="0.7" stroke-dasharray="2.2 0.6"/>
<text x="550.9" y="61.7" font-size="9.5" fill="#1b8fcf" stroke="#1b8fcf" stroke-width="0.08" text-anchor="middle" font-weight="bold" >234</text>
<circle cx="499.2" cy="71.4" r="5.4" fill="#c8e5c1" stroke="#3a3a3a" stroke-width="0.7" stroke-dasharray="2.2 0.6"/>
<circle cx="497.4" cy="71.4" r="0.9" fill="#111"/>
<circle cx="500.9" cy="71.4" r="0.9" fill="#111"/>
<text x="499.2" y="65.3" font-size="9.5" fill="#7a7a7a" stroke="#7a7a7a" stroke-width="0.08" text-anchor="middle" font-weight="normal" >226</text>
<circle cx="474.8" cy="79.0" r="5.4" fill="#8fcb86" stroke="#444" stroke-width="0.7"/>
<circle cx="469.2" cy="79.0" r="0.9" fill="#111"/>
<circle cx="473.0" cy="79.0" r="0.9" fill="#111"/>
<circle cx="476.6" cy="79.0" r="0.9" fill="#111"/>
<circle cx="480.4" cy="79.0" r="0.9" fill="#111"/>
<text x="474.8" y="72.9" font-size="9.5" fill="#dc6420" stroke="#dc6420" stroke-width="0.08" text-anchor="middle" font-weight="bold" >218</text>
<circle cx="535.2" cy="87.1" r="5.4" fill="#c8e5c1" stroke="#3a3a3a" stroke-width="0.7" stroke-dasharray="2.2 0.6"/>
<text x="535.2" y="81.0" font-size="9.5" fill="#1b8fcf" stroke="#1b8fcf" stroke-width="0.08" text-anchor="middle" font-weight="bold" >245</text>
<circle cx="561.1" cy="98.3" r="5.4" fill="#a6d69e" stroke="#444" stroke-width="0.7"/>
<circle cx="555.5" cy="98.3" r="0.9" fill="#111"/>
<circle cx="559.3" cy="98.3" r="0.9" fill="#111"/>
<circle cx="562.9" cy="98.3" r="0.9" fill="#111"/>
<circle cx="566.7" cy="98.3" r="0.9" fill="#111"/>
<text x="561.1" y="92.2" font-size="9.5" fill="#1b8fcf" stroke="#1b8fcf" stroke-width="0.08" text-anchor="middle" font-weight="bold" >259</text>
<circle cx="452.6" cy="105.2" r="5.4" fill="#fbe3ea" stroke="#444" stroke-width="0.7"/>
<circle cx="452.6" cy="105.2" r="0.9" fill="#111"/>
<text x="452.6" y="99.1" font-size="9.5" fill="#7a7a7a" stroke="#7a7a7a" stroke-width="0.08" text-anchor="middle" font-weight="normal" >283</text>
<circle cx="493.9" cy="101.7" r="5.4" fill="#fafafa" stroke="#444" stroke-width="0.7"/>
<text x="493.9" y="95.6" font-size="9.5" fill="#7a7a7a" stroke="#7a7a7a" stroke-width="0.08" text-anchor="middle" font-weight="normal" >292</text>
<circle cx="510.2" cy="96.3" r="5.4" fill="#fbe3ea" stroke="#3a3a3a" stroke-width="0.7" stroke-dasharray="2.2 0.6"/>
<circle cx="510.2" cy="96.3" r="0.9" fill="#111"/>
<text x="510.2" y="90.2" font-size="9.5" fill="#7a7a7a" stroke="#7a7a7a" stroke-width="0.08" text-anchor="middle" font-weight="normal" >298</text>
<circle cx="478.8" cy="111.1" r="5.4" fill="#fbe3ea" stroke="#444" stroke-width="0.7"/>
<circle cx="477.1" cy="111.1" r="0.9" fill="#111"/>
<circle cx="480.6" cy="111.1" r="0.9" fill="#111"/>
<text x="478.8" y="105.0" font-size="9.5" fill="#7a7a7a" stroke="#7a7a7a" stroke-width="0.08" text-anchor="middle" font-weight="normal" >21</text>
<circle cx="497.8" cy="118.6" r="5.4" fill="#fadbe3" stroke="#444" stroke-width="0.7"/>
<circle cx="497.8" cy="118.6" r="0.9" fill="#111"/>
<text x="497.8" y="112.5" font-size="9.5" fill="#7a7a7a" stroke="#7a7a7a" stroke-width="0.08" text-anchor="middle" font-weight="normal" >124</text>
<circle cx="512.6" cy="119.9" r="5.4" fill="#8fcb86" stroke="#444" stroke-width="0.7"/>
<circle cx="507.0" cy="119.9" r="0.9" fill="#111"/>
<circle cx="510.8" cy="119.9" r="0.9" fill="#111"/>
<circle cx="514.4" cy="119.9" r="0.9" fill="#111"/>
<circle cx="518.2" cy="119.9" r="0.9" fill="#111"/>
<text x="512.6" y="113.8" font-size="9.5" fill="#1b8fcf" stroke="#1b8fcf" stroke-width="0.08" text-anchor="middle" font-weight="bold" >114</text>
<circle cx="538.7" cy="117.6" r="5.4" fill="#a6d69e" stroke="#3a3a3a" stroke-width="0.7" stroke-dasharray="2.2 0.6"/>
<circle cx="537.0" cy="117.6" r="0.9" fill="#111"/>
<circle cx="540.5" cy="117.6" r="0.9" fill="#111"/>
<text x="538.7" y="111.5" font-size="9.5" fill="#7a7a7a" stroke="#7a7a7a" stroke-width="0.08" text-anchor="middle" font-weight="normal" >270</text>
<circle cx="486.0" cy="134.4" r="5.4" fill="#80c479" stroke="#3a3a3a" stroke-width="0.7" stroke-dasharray="2.2 0.6"/>
<circle cx="484.2" cy="134.4" r="0.9" fill="#111"/>
<circle cx="487.8" cy="134.4" r="0.9" fill="#111"/>
<text x="486.0" y="128.3" font-size="9.5" fill="#7a7a7a" stroke="#7a7a7a" stroke-width="0.08" text-anchor="middle" font-weight="normal" >220</text>
<circle cx="515.9" cy="137.4" r="5.4" fill="#fcecf0" stroke="#444" stroke-width="0.7"/>
<text x="515.9" y="131.3" font-size="9.5" fill="#7a7a7a" stroke="#7a7a7a" stroke-width="0.08" text-anchor="middle" font-weight="normal" >110</text>
<circle cx="502.2" cy="147.8" r="5.4" fill="#fcecf0" stroke="#444" stroke-width="0.7"/>
<text x="502.2" y="141.7" font-size="9.5" fill="#7a7a7a" stroke="#7a7a7a" stroke-width="0.08" text-anchor="middle" font-weight="normal" >9</text>
<circle cx="537.2" cy="140.3" r="5.4" fill="#5aa955" stroke="#444" stroke-width="0.7"/>
<circle cx="535.5" cy="140.3" r="0.9" fill="#111"/>
<circle cx="539.0" cy="140.3" r="0.9" fill="#111"/>
<text x="537.2" y="134.2" font-size="9.5" fill="#1b8fcf" stroke="#1b8fcf" stroke-width="0.08" text-anchor="middle" font-weight="bold" >219</text>
<circle cx="550.7" cy="155.8" r="5.4" fill="#fbe3ea" stroke="#3a3a3a" stroke-width="0.7" stroke-dasharray="2.2 0.6"/>
<circle cx="550.7" cy="155.8" r="0.9" fill="#111"/>
<text x="550.7" y="149.7" font-size="9.5" fill="#1b8fcf" stroke="#1b8fcf" stroke-width="0.08" text-anchor="middle" font-weight="bold" >34</text>
<circle cx="566.5" cy="150.1" r="5.4" fill="#d6ecd2" stroke="#3a3a3a" stroke-width="0.7" stroke-dasharray="2.2 0.6"/>
<text x="566.5" y="144.0" font-size="9.5" fill="#1b8fcf" stroke="#1b8fcf" stroke-width="0.08" text-anchor="middle" font-weight="bold" >272</text>
<circle cx="584.2" cy="155.6" r="5.4" fill="#9ad293" stroke="#444" stroke-width="0.7"/>
<circle cx="578.6" cy="155.6" r="0.9" fill="#111"/>
<circle cx="582.4" cy="155.6" r="0.9" fill="#111"/>
<circle cx="586.0" cy="155.6" r="0.9" fill="#111"/>
<circle cx="589.8" cy="155.6" r="0.9" fill="#111"/>
<text x="584.2" y="149.5" font-size="9.5" fill="#1b8fcf" stroke="#1b8fcf" stroke-width="0.08" text-anchor="middle" font-weight="bold" >108</text>
<circle cx="524.4" cy="166.3" r="5.4" fill="#80c479" stroke="#3a3a3a" stroke-width="0.7" stroke-dasharray="2.2 0.6"/>
<circle cx="522.6" cy="166.3" r="0.9" fill="#111"/>
<circle cx="526.1" cy="166.3" r="0.9" fill="#111"/>
<text x="524.4" y="160.2" font-size="9.5" fill="#1b8fcf" stroke="#1b8fcf" stroke-width="0.08" text-anchor="middle" font-weight="bold" >224</text>
<circle cx="549.0" cy="176.5" r="5.4" fill="#80c479" stroke="#3a3a3a" stroke-width="0.7" stroke-dasharray="2.2 0.6"/>
<circle cx="547.2" cy="176.5" r="0.9" fill="#111"/>
<circle cx="550.8" cy="176.5" r="0.9" fill="#111"/>
<text x="549.0" y="170.4" font-size="9.5" fill="#7a7a7a" stroke="#7a7a7a" stroke-width="0.08" text-anchor="middle" font-weight="normal" >256</text>
<circle cx="571.4" cy="174.4" r="5.4" fill="#fafafa" stroke="#3a3a3a" stroke-width="0.7" stroke-dasharray="2.2 0.6"/>
<text x="571.4" y="168.3" font-size="9.5" fill="#1b8fcf" stroke="#1b8fcf" stroke-width="0.08" text-anchor="middle" font-weight="bold" >99</text>
<circle cx="465.4" cy="174.7" r="5.4" fill="#edf5eb" stroke="#3a3a3a" stroke-width="0.7" stroke-dasharray="2.2 0.6"/>
<circle cx="465.4" cy="174.7" r="0.9" fill="#111"/>
<text x="465.4" y="168.6" font-size="9.5" fill="#7a7a7a" stroke="#7a7a7a" stroke-width="0.08" text-anchor="middle" font-weight="normal" >243</text>
<circle cx="498.8" cy="182.2" r="5.4" fill="#a6d69e" stroke="#3a3a3a" stroke-width="0.7" stroke-dasharray="2.2 0.6"/>
<circle cx="498.8" cy="182.2" r="0.9" fill="#111"/>
<text x="498.8" y="176.1" font-size="9.5" fill="#7a7a7a" stroke="#7a7a7a" stroke-width="0.08" text-anchor="middle" font-weight="normal" >271</text>
<circle cx="528.9" cy="195.0" r="5.4" fill="#80c479" stroke="#3a3a3a" stroke-width="0.7" stroke-dasharray="2.2 0.6"/>
<circle cx="527.1" cy="195.0" r="0.9" fill="#111"/>
<circle cx="530.6" cy="195.0" r="0.9" fill="#111"/>
<text x="528.9" y="188.9" font-size="9.5" fill="#7a7a7a" stroke="#7a7a7a" stroke-width="0.08" text-anchor="middle" font-weight="normal" >222</text>
<circle cx="553.4" cy="197.0" r="5.4" fill="#edf5eb" stroke="#3a3a3a" stroke-width="0.7" stroke-dasharray="2.2 0.6"/>
<text x="553.4" y="190.9" font-size="9.5" fill="#1b8fcf" stroke="#1b8fcf" stroke-width="0.08" text-anchor="middle" font-weight="bold" >102</text>
<circle cx="485.1" cy="198.9" r="5.4" fill="#80c479" stroke="#3a3a3a" stroke-width="0.7" stroke-dasharray="2.2 0.6"/>
<circle cx="483.4" cy="198.9" r="0.9" fill="#111"/>
<circle cx="486.9" cy="198.9" r="0.9" fill="#111"/>
<text x="485.1" y="192.8" font-size="9.5" fill="#7a7a7a" stroke="#7a7a7a" stroke-width="0.08" text-anchor="middle" font-weight="normal" >217</text>
<circle cx="574.3" cy="196.1" r="5.4" fill="#80c479" stroke="#3a3a3a" stroke-width="0.7" stroke-dasharray="2.2 0.6"/>
<circle cx="572.5" cy="196.1" r="0.9" fill="#111"/>
<circle cx="576.0" cy="196.1" r="0.9" fill="#111"/>
<text x="574.3" y="190.0" font-size="9.5" fill="#7a7a7a" stroke="#7a7a7a" stroke-width="0.08" text-anchor="middle" font-weight="normal" >223</text>
<circle cx="593.1" cy="197.8" r="5.4" fill="#fbe3ea" stroke="#3a3a3a" stroke-width="0.7" stroke-dasharray="2.2 0.6"/>
<circle cx="591.4" cy="197.8" r="0.9" fill="#111"/>
<circle cx="594.9" cy="197.8" r="0.9" fill="#111"/>
<text x="593.1" y="191.7" font-size="9.5" fill="#dc6420" stroke="#dc6420" stroke-width="0.08" text-anchor="middle" font-weight="bold" >187</text>
<circle cx="497.6" cy="220.0" r="5.4" fill="#a6d69e" stroke="#3a3a3a" stroke-width="0.7" stroke-dasharray="2.2 0.6"/>
<circle cx="495.9" cy="220.0" r="0.9" fill="#111"/>
<circle cx="499.4" cy="220.0" r="0.9" fill="#111"/>
<text x="497.6" y="213.9" font-size="9.5" fill="#7a7a7a" stroke="#7a7a7a" stroke-width="0.08" text-anchor="middle" font-weight="normal" >229</text>
<circle cx="463.4" cy="232.2" r="5.4" fill="#edf5eb" stroke="#3a3a3a" stroke-width="0.7" stroke-dasharray="2.2 0.6"/>
<text x="465.4" y="226.1" font-size="9.5" fill="#7a7a7a" stroke="#7a7a7a" stroke-width="0.08" text-anchor="middle" font-weight="normal" >238</text>
<circle cx="553.0" cy="219.3" r="5.4" fill="#fbe3ea" stroke="#3a3a3a" stroke-width="0.7" stroke-dasharray="2.2 0.6"/>
<circle cx="551.2" cy="219.3" r="0.9" fill="#111"/>
<circle cx="554.8" cy="219.3" r="0.9" fill="#111"/>
<text x="553.0" y="213.2" font-size="9.5" fill="#dc6420" stroke="#dc6420" stroke-width="0.08" text-anchor="middle" font-weight="bold" >138</text>
<circle cx="569.7" cy="219.6" r="5.4" fill="#fadbe3" stroke="#3a3a3a" stroke-width="0.7" stroke-dasharray="2.2 0.6"/>
<circle cx="569.7" cy="219.6" r="0.9" fill="#111"/>
<text x="569.7" y="213.5" font-size="9.5" fill="#dc6420" stroke="#dc6420" stroke-width="0.08" text-anchor="middle" font-weight="bold" >19</text>
<circle cx="486.2" cy="254.1" r="5.4" fill="#fbe3ea" stroke="#3a3a3a" stroke-width="0.7" stroke-dasharray="2.2 0.6"/>
<circle cx="484.4" cy="254.1" r="0.9" fill="#111"/>
<circle cx="487.9" cy="254.1" r="0.9" fill="#111"/>
<text x="486.2" y="248.0" font-size="9.5" fill="#7a7a7a" stroke="#7a7a7a" stroke-width="0.08" text-anchor="middle" font-weight="normal" >154</text>
<circle cx="548.1" cy="242.3" r="5.4" fill="#fbe3ea" stroke="#3a3a3a" stroke-width="0.7" stroke-dasharray="2.2 0.6"/>
<circle cx="546.4" cy="242.3" r="0.9" fill="#111"/>
<circle cx="549.9" cy="242.3" r="0.9" fill="#111"/>
<text x="548.1" y="236.2" font-size="9.5" fill="#7a7a7a" stroke="#7a7a7a" stroke-width="0.08" text-anchor="middle" font-weight="normal" >188</text>
<circle cx="574.7" cy="241.9" r="5.4" fill="#fbe3ea" stroke="#3a3a3a" stroke-width="0.7" stroke-dasharray="2.2 0.6"/>
<circle cx="574.7" cy="241.9" r="0.9" fill="#111"/>
<text x="574.7" y="235.8" font-size="9.5" fill="#7a7a7a" stroke="#7a7a7a" stroke-width="0.08" text-anchor="middle" font-weight="normal" >147</text>
<circle cx="649.2" cy="22.8" r="5.4" fill="#fadbe3" stroke="#3a3a3a" stroke-width="0.7" stroke-dasharray="2.2 0.6"/>
<circle cx="647.5" cy="22.8" r="0.9" fill="#111"/>
<circle cx="651.0" cy="22.8" r="0.9" fill="#111"/>
<text x="649.2" y="16.7" font-size="9.5" fill="#7a7a7a" stroke="#7a7a7a" stroke-width="0.08" text-anchor="middle" font-weight="normal" >152</text>
<circle cx="673.2" cy="31.0" r="5.4" fill="#f8c9d5" stroke="#3a3a3a" stroke-width="0.7" stroke-dasharray="2.2 0.6"/>
<circle cx="671.5" cy="31.0" r="0.9" fill="#111"/>
<circle cx="675.0" cy="31.0" r="0.9" fill="#111"/>
<text x="673.2" y="24.9" font-size="9.5" fill="#7a7a7a" stroke="#7a7a7a" stroke-width="0.08" text-anchor="middle" font-weight="normal" >182</text>
<circle cx="635.8" cy="43.3" r="5.4" fill="#fbe3ea" stroke="#3a3a3a" stroke-width="0.7" stroke-dasharray="2.2 0.6"/>
<circle cx="635.8" cy="43.3" r="0.9" fill="#111"/>
<text x="635.8" y="37.2" font-size="9.5" fill="#7a7a7a" stroke="#7a7a7a" stroke-width="0.08" text-anchor="middle" font-weight="normal" >191</text>
<circle cx="653.5" cy="52.9" r="5.4" fill="#f8c9d5" stroke="#3a3a3a" stroke-width="0.7" stroke-dasharray="2.2 0.6"/>
<circle cx="651.8" cy="52.9" r="0.9" fill="#111"/>
<circle cx="655.2" cy="52.9" r="0.9" fill="#111"/>
<text x="653.5" y="46.8" font-size="9.5" fill="#7a7a7a" stroke="#7a7a7a" stroke-width="0.08" text-anchor="middle" font-weight="normal" >159</text>
<circle cx="671.7" cy="59.8" r="5.4" fill="#f8c9d5" stroke="#3a3a3a" stroke-width="0.7" stroke-dasharray="2.2 0.6"/>
<circle cx="670.0" cy="59.8" r="0.9" fill="#111"/>
<circle cx="673.5" cy="59.8" r="0.9" fill="#111"/>
<text x="671.7" y="53.7" font-size="9.5" fill="#7a7a7a" stroke="#7a7a7a" stroke-width="0.08" text-anchor="middle" font-weight="normal" >160</text>
<circle cx="693.0" cy="51.2" r="5.4" fill="#f8c9d5" stroke="#3a3a3a" stroke-width="0.7" stroke-dasharray="2.2 0.6"/>
<circle cx="691.2" cy="51.2" r="0.9" fill="#111"/>
<circle cx="694.8" cy="51.2" r="0.9" fill="#111"/>
<text x="693.0" y="45.1" font-size="9.5" fill="#7a7a7a" stroke="#7a7a7a" stroke-width="0.08" text-anchor="middle" font-weight="normal" >27</text>
<circle cx="704.1" cy="67.3" r="5.4" fill="#f8c9d5" stroke="#3a3a3a" stroke-width="0.7" stroke-dasharray="2.2 0.6"/>
<circle cx="702.4" cy="67.3" r="0.9" fill="#111"/>
<circle cx="705.9" cy="67.3" r="0.9" fill="#111"/>
<text x="704.1" y="61.2" font-size="9.5" fill="#7a7a7a" stroke="#7a7a7a" stroke-width="0.08" text-anchor="middle" font-weight="normal" >38</text>
<circle cx="687.7" cy="72.6" r="5.4" fill="#f8c9d5" stroke="#3a3a3a" stroke-width="0.7" stroke-dasharray="2.2 0.6"/>
<circle cx="686.0" cy="72.6" r="0.9" fill="#111"/>
<circle cx="689.5" cy="72.6" r="0.9" fill="#111"/>
<text x="687.7" y="66.5" font-size="9.5" fill="#7a7a7a" stroke="#7a7a7a" stroke-width="0.08" text-anchor="middle" font-weight="normal" >156</text>
<circle cx="644.8" cy="83.3" r="5.4" fill="#fbe3ea" stroke="#3a3a3a" stroke-width="0.7" stroke-dasharray="2.2 0.6"/>
<circle cx="644.8" cy="83.3" r="0.9" fill="#111"/>
<text x="644.8" y="77.2" font-size="9.5" fill="#7a7a7a" stroke="#7a7a7a" stroke-width="0.08" text-anchor="middle" font-weight="normal" >107</text>
<circle cx="666.3" cy="82.2" r="5.4" fill="#f8c9d5" stroke="#3a3a3a" stroke-width="0.7" stroke-dasharray="2.2 0.6"/>
<circle cx="664.5" cy="82.2" r="0.9" fill="#111"/>
<circle cx="668.0" cy="82.2" r="0.9" fill="#111"/>
<text x="666.3" y="76.1" font-size="9.5" fill="#7a7a7a" stroke="#7a7a7a" stroke-width="0.08" text-anchor="middle" font-weight="normal" >14</text>
<circle cx="692.8" cy="92.2" r="5.4" fill="#f8c9d5" stroke="#3a3a3a" stroke-width="0.7" stroke-dasharray="2.2 0.6"/>
<text x="692.8" y="86.1" font-size="9.5" fill="#7a7a7a" stroke="#7a7a7a" stroke-width="0.08" text-anchor="middle" font-weight="normal" >210</text>
<circle cx="631.5" cy="103.5" r="5.4" fill="#fbe3ea" stroke="#3a3a3a" stroke-width="0.7" stroke-dasharray="2.2 0.6"/>
<circle cx="631.5" cy="103.5" r="0.9" fill="#111"/>
<text x="631.5" y="97.4" font-size="9.5" fill="#a45bb5" stroke="#a45bb5" stroke-width="0.08" text-anchor="middle" font-weight="bold" >3</text>
<circle cx="655.4" cy="104.2" r="5.4" fill="#fafafa" stroke="#3a3a3a" stroke-width="0.7" stroke-dasharray="2.2 0.6"/>
<text x="655.4" y="98.1" font-size="9.5" fill="#7a7a7a" stroke="#7a7a7a" stroke-width="0.08" text-anchor="middle" font-weight="normal" >16</text>
<circle cx="677.0" cy="106.7" r="5.4" fill="#fcecf0" stroke="#3a3a3a" stroke-width="0.7" stroke-dasharray="2.2 0.6"/>
<text x="677.0" y="100.6" font-size="9.5" fill="#7a7a7a" stroke="#7a7a7a" stroke-width="0.08" text-anchor="middle" font-weight="normal" >37</text>
<circle cx="608.1" cy="117.8" r="5.4" fill="#fcecf0" stroke="#3a3a3a" stroke-width="0.7" stroke-dasharray="2.2 0.6"/>
<text x="608.1" y="111.7" font-size="9.5" fill="#7a7a7a" stroke="#7a7a7a" stroke-width="0.08" text-anchor="middle" font-weight="normal" >162</text>
<circle cx="640.8" cy="122.0" r="5.4" fill="#fbe3ea" stroke="#3a3a3a" stroke-width="0.7" stroke-dasharray="2.2 0.6"/>
<circle cx="640.8" cy="122.0" r="0.9" fill="#111"/>
<text x="640.8" y="115.9" font-size="9.5" fill="#7a7a7a" stroke="#7a7a7a" stroke-width="0.08" text-anchor="middle" font-weight="normal" >169</text>
<circle cx="626.2" cy="133.3" r="5.4" fill="#fcecf0" stroke="#3a3a3a" stroke-width="0.7" stroke-dasharray="2.2 0.6"/>
<text x="626.2" y="127.2" font-size="9.5" fill="#7a7a7a" stroke="#7a7a7a" stroke-width="0.08" text-anchor="middle" font-weight="normal" >105</text>
<circle cx="641.4" cy="139.1" r="5.4" fill="#fadbe3" stroke="#3a3a3a" stroke-width="0.7" stroke-dasharray="2.2 0.6"/>
<text x="653.4" y="134.5" font-size="9.5" fill="#7a7a7a" stroke="#7a7a7a" stroke-width="0.08" text-anchor="middle" font-weight="normal" >178</text>
<circle cx="598.0" cy="144.7" r="5.4" fill="#fcecf0" stroke="#3a3a3a" stroke-width="0.7" stroke-dasharray="2.2 0.6"/>
<circle cx="596.2" cy="144.7" r="0.9" fill="#111"/>
<circle cx="599.8" cy="144.7" r="0.9" fill="#111"/>
<text x="598.0" y="138.6" font-size="9.5" fill="#dc6420" stroke="#dc6420" stroke-width="0.08" text-anchor="middle" font-weight="bold" >13</text>
<circle cx="623.3" cy="153.6" r="5.4" fill="#fadbe3" stroke="#3a3a3a" stroke-width="0.7" stroke-dasharray="2.2 0.6"/>
<circle cx="621.5" cy="153.6" r="0.9" fill="#111"/>
<circle cx="625.0" cy="153.6" r="0.9" fill="#111"/>
<text x="623.3" y="147.5" font-size="9.5" fill="#dc6420" stroke="#dc6420" stroke-width="0.08" text-anchor="middle" font-weight="bold" >20</text>
<circle cx="660.0" cy="152.7" r="5.4" fill="#fcecf0" stroke="#3a3a3a" stroke-width="0.7" stroke-dasharray="2.2 0.6"/>
<text x="660.0" y="146.6" font-size="9.5" fill="#dc6420" stroke="#dc6420" stroke-width="0.08" text-anchor="middle" font-weight="bold" >143</text>
<circle cx="643.4" cy="169.3" r="5.4" fill="#f8c9d5" stroke="#3a3a3a" stroke-width="0.7" stroke-dasharray="2.2 0.6"/>
<text x="643.4" y="163.2" font-size="9.5" fill="#7a7a7a" stroke="#7a7a7a" stroke-width="0.08" text-anchor="middle" font-weight="normal" >176</text>
<circle cx="612.9" cy="172.0" r="5.4" fill="#fcecf0" stroke="#3a3a3a" stroke-width="0.7" stroke-dasharray="2.2 0.6"/>
<circle cx="612.9" cy="172.0" r="0.9" fill="#111"/>
<text x="612.9" y="165.9" font-size="9.5" fill="#dc6420" stroke="#dc6420" stroke-width="0.08" text-anchor="middle" font-weight="bold" >1</text>
<circle cx="596.3" cy="173.7" r="5.4" fill="#fbe3ea" stroke="#3a3a3a" stroke-width="0.7" stroke-dasharray="2.2 0.6"/>
<circle cx="596.3" cy="173.7" r="0.9" fill="#111"/>
<text x="596.3" y="167.6" font-size="9.5" fill="#1b8fcf" stroke="#1b8fcf" stroke-width="0.08" text-anchor="middle" font-weight="bold" >101</text>
<text x="291.6" y="20.4" font-size="13.8" font-weight="bold">TH<tspan font-size="9" dy="-4.2" dx="0.3">+</tspan></text>
<text x="547.2" y="18.4" font-size="14.3" font-weight="bold">ChAT<tspan font-size="9" dy="-4.4" dx="0.6">+</tspan></text>
<defs>
<linearGradient id="cb" x1="0" x2="1" y1="0" y2="0">
<stop offset="0" stop-color="#e2456b"/><stop offset="0.5" stop-color="#ffffff"/><stop offset="1" stop-color="#45a845"/>
</linearGradient></defs>
<rect x="252.5" y="252.3" width="100.5" height="7" fill="url(#cb)" stroke="#333" stroke-width="0.6"/>
<rect x="508.8" y="252.1" width="100.7" height="6.6" fill="url(#cb)" stroke="#333" stroke-width="0.6"/>
<text x="252.5" y="269.2" font-size="9.5" fill="#111" stroke="#111" stroke-width="0.22" text-anchor="middle" font-weight="normal" >-3</text>
<text x="302.8" y="269.2" font-size="9.5" fill="#111" stroke="#111" stroke-width="0.22" text-anchor="middle" font-weight="normal" >0</text>
<text x="353.5" y="269.2" font-size="9.5" fill="#111" stroke="#111" stroke-width="0.22" text-anchor="middle" font-weight="normal" >3</text>
<text x="508.8" y="269.2" font-size="9.5" fill="#111" stroke="#111" stroke-width="0.22" text-anchor="middle" font-weight="normal" >-5</text>
<text x="559.1" y="269.2" font-size="9.5" fill="#111" stroke="#111" stroke-width="0.22" text-anchor="middle" font-weight="normal" >0</text>
<text x="610.2" y="269.2" font-size="9.5" fill="#111" stroke="#111" stroke-width="0.22" text-anchor="middle" font-weight="normal" >5</text>
<text x="254.7" y="279.3" font-size="9.5" fill="#111">log<tspan font-size="6.5" dy="2">2</tspan><tspan dy="-2">(Activated/Control)</tspan></text>
<text x="511.2" y="279.3" font-size="9.5" fill="#111">log<tspan font-size="6.5" dy="2">2</tspan><tspan dy="-2">(Activated/Control)</tspan></text>
<text x="436.8" y="286.6" font-size="11.1" fill="#1b8fcf" stroke="#1b8fcf" stroke-width="0.12" text-anchor="middle" font-weight="bold" >Primary Bile Acid</text>
<text x="436.9" y="298.8" font-size="11.9" fill="#dc6420" stroke="#dc6420" stroke-width="0.12" text-anchor="middle" font-weight="bold" >Secondary Bile Acid</text>
<text x="437.0" y="311.1" font-size="11.8" fill="#a45bb5" stroke="#a45bb5" stroke-width="0.12" text-anchor="middle" font-weight="bold" >Other Metabolite</text>
<g stroke="#222" stroke-width="1" fill="none">
<line x1="57.9" y1="336" x2="57.9" y2="600.5"/>
<line x1="57.4" y1="600" x2="151.8" y2="600"/>
<line x1="81.4" y1="336" x2="81.4" y2="600"/>
<line x1="52.6" y1="343.4" x2="57.9" y2="343.4"/>
<line x1="52.6" y1="353.4" x2="57.9" y2="353.4"/>
<line x1="52.6" y1="363.4" x2="57.9" y2="363.4"/>
<line x1="52.6" y1="373.4" x2="57.9" y2="373.4"/>
<line x1="52.6" y1="383.4" x2="57.9" y2="383.4"/>
<line x1="52.6" y1="393.4" x2="57.9" y2="393.4"/>
<line x1="52.6" y1="403.5" x2="57.9" y2="403.5"/>
<line x1="52.6" y1="413.5" x2="57.9" y2="413.5"/>
<line x1="52.6" y1="423.5" x2="57.9" y2="423.5"/>
<line x1="52.6" y1="433.5" x2="57.9" y2="433.5"/>
<line x1="52.6" y1="443.5" x2="57.9" y2="443.5"/>
<line x1="52.6" y1="453.5" x2="57.9" y2="453.5"/>
<line x1="52.6" y1="463.5" x2="57.9" y2="463.5"/>
<line x1="52.6" y1="473.5" x2="57.9" y2="473.5"/>
<line x1="52.6" y1="483.5" x2="57.9" y2="483.5"/>
<line x1="52.6" y1="493.5" x2="57.9" y2="493.5"/>
<line x1="52.6" y1="503.6" x2="57.9" y2="503.6"/>
<line x1="52.6" y1="513.6" x2="57.9" y2="513.6"/>
<line x1="52.6" y1="523.6" x2="57.9" y2="523.6"/>
<line x1="52.6" y1="533.6" x2="57.9" y2="533.6"/>
<line x1="52.6" y1="543.6" x2="57.9" y2="543.6"/>
<line x1="52.6" y1="553.6" x2="57.9" y2="553.6"/>
<line x1="52.6" y1="563.6" x2="57.9" y2="563.6"/>
<line x1="52.6" y1="573.6" x2="57.9" y2="573.6"/>
<line x1="52.6" y1="583.6" x2="57.9" y2="583.6"/>
<line x1="52.6" y1="593.6" x2="57.9" y2="593.6"/>
<line x1="58.3" y1="600" x2="58.3" y2="603"/>
<line x1="81.4" y1="600" x2="81.4" y2="603"/>
<line x1="104.5" y1="600" x2="104.5" y2="603"/>
<line x1="127.6" y1="600" x2="127.6" y2="603"/>
<line x1="150.8" y1="600" x2="150.8" y2="603"/>
</g>
<text x="51.8" y="347.1" font-size="10.3" fill="#1b8fcf" stroke="#1b8fcf" stroke-width="0.22" text-anchor="end" font-weight="normal" >215</text>
<rect x="81.4" y="339.8" width="58.6" height="7.2" fill="#50b34c" stroke="#222" stroke-width="0.9"/>
<text x="151.3" y="347.7" font-size="8.6" fill="#111" stroke="#111" stroke-width="0.22" text-anchor="middle" font-weight="normal" >**</text>
<text x="51.8" y="357.1" font-size="10.3" fill="#1b8fcf" stroke="#1b8fcf" stroke-width="0.22" text-anchor="end" font-weight="normal" >219</text>
<rect x="81.4" y="349.8" width="48.2" height="7.2" fill="#50b34c" stroke="#222" stroke-width="0.9"/>
<text x="151.3" y="357.7" font-size="8.6" fill="#111" stroke="#111" stroke-width="0.22" text-anchor="middle" font-weight="normal" >**</text>
<text x="51.8" y="367.1" font-size="10.3" fill="#dc6420" stroke="#dc6420" stroke-width="0.22" text-anchor="end" font-weight="normal" >218</text>
<rect x="81.4" y="359.8" width="42.1" height="7.2" fill="#50b34c" stroke="#222" stroke-width="0.9"/>
<text x="151.3" y="367.7" font-size="8.6" fill="#111" stroke="#111" stroke-width="0.22" text-anchor="middle" font-weight="normal" >****</text>
<text x="51.8" y="377.1" font-size="10.3" fill="#1b8fcf" stroke="#1b8fcf" stroke-width="0.22" text-anchor="end" font-weight="normal" >108</text>
<rect x="81.4" y="369.8" width="39.7" height="7.2" fill="#50b34c" stroke="#222" stroke-width="0.9"/>
<text x="151.3" y="377.7" font-size="8.6" fill="#111" stroke="#111" stroke-width="0.22" text-anchor="middle" font-weight="normal" >****</text>
<text x="51.8" y="387.1" font-size="10.3" fill="#1b8fcf" stroke="#1b8fcf" stroke-width="0.22" text-anchor="end" font-weight="normal" >221</text>
<rect x="81.4" y="379.8" width="38.0" height="7.2" fill="#50b34c" stroke="#222" stroke-width="0.9"/>
<text x="151.3" y="387.7" font-size="8.6" fill="#111" stroke="#111" stroke-width="0.22" text-anchor="middle" font-weight="normal" >*</text>
<text x="51.8" y="397.1" font-size="10.3" fill="#1b8fcf" stroke="#1b8fcf" stroke-width="0.22" text-anchor="end" font-weight="normal" >114</text>
<rect x="81.4" y="389.8" width="35.3" height="7.2" fill="#50b34c" stroke="#222" stroke-width="0.9"/>
<text x="151.3" y="397.8" font-size="8.6" fill="#111" stroke="#111" stroke-width="0.22" text-anchor="middle" font-weight="normal" >****</text>
<text x="51.8" y="407.2" font-size="10.3" fill="#1b8fcf" stroke="#1b8fcf" stroke-width="0.22" text-anchor="end" font-weight="normal" >259</text>
<rect x="81.4" y="399.9" width="29.3" height="7.2" fill="#50b34c" stroke="#222" stroke-width="0.9"/>
<text x="151.3" y="407.8" font-size="8.6" fill="#111" stroke="#111" stroke-width="0.22" text-anchor="middle" font-weight="normal" >****</text>
<text x="51.8" y="417.2" font-size="10.3" fill="#1b8fcf" stroke="#1b8fcf" stroke-width="0.22" text-anchor="end" font-weight="normal" >224</text>
<rect x="81.4" y="409.9" width="25.9" height="7.2" fill="#50b34c" stroke="#222" stroke-width="0.9"/>
<text x="151.3" y="417.8" font-size="8.6" fill="#111" stroke="#111" stroke-width="0.22" text-anchor="middle" font-weight="normal" >**</text>
<text x="51.8" y="427.2" font-size="10.3" fill="#1b8fcf" stroke="#1b8fcf" stroke-width="0.22" text-anchor="end" font-weight="normal" >235</text>
<rect x="81.4" y="419.9" width="24.7" height="7.2" fill="#50b34c" stroke="#222" stroke-width="0.9"/>
<text x="51.8" y="437.2" font-size="10.3" fill="#1b8fcf" stroke="#1b8fcf" stroke-width="0.22" text-anchor="end" font-weight="normal" >234</text>
<rect x="81.4" y="429.9" width="23.2" height="7.2" fill="#50b34c" stroke="#222" stroke-width="0.9"/>
<text x="51.8" y="447.2" font-size="10.3" fill="#1b8fcf" stroke="#1b8fcf" stroke-width="0.22" text-anchor="end" font-weight="normal" >248</text>
<rect x="81.4" y="439.9" width="19.1" height="7.2" fill="#50b34c" stroke="#222" stroke-width="0.9"/>
<text x="51.8" y="457.2" font-size="10.3" fill="#1b8fcf" stroke="#1b8fcf" stroke-width="0.22" text-anchor="end" font-weight="normal" >245</text>
<rect x="81.4" y="449.9" width="16.9" height="7.2" fill="#50b34c" stroke="#222" stroke-width="0.9"/>
<text x="51.8" y="467.2" font-size="10.3" fill="#1b8fcf" stroke="#1b8fcf" stroke-width="0.22" text-anchor="end" font-weight="normal" >272</text>
<rect x="81.4" y="459.9" width="9.4" height="7.2" fill="#50b34c" stroke="#222" stroke-width="0.9"/>
<text x="51.8" y="477.2" font-size="10.3" fill="#1b8fcf" stroke="#1b8fcf" stroke-width="0.22" text-anchor="end" font-weight="normal" >102</text>
<rect x="81.4" y="469.9" width="3.4" height="7.2" fill="#50b34c" stroke="#222" stroke-width="0.9"/>
<text x="51.8" y="487.2" font-size="10.3" fill="#1b8fcf" stroke="#1b8fcf" stroke-width="0.22" text-anchor="end" font-weight="normal" >99</text>
<rect x="81.4" y="479.9" width="0.9" height="7.2" fill="#50b34c" stroke="#222" stroke-width="0.9"/>
<text x="51.8" y="497.2" font-size="10.3" fill="#dc6420" stroke="#dc6420" stroke-width="0.22" text-anchor="end" font-weight="normal" >1</text>
<rect x="77.5" y="489.9" width="3.9" height="7.2" fill="#e9506f" stroke="#222" stroke-width="0.9"/>
<text x="151.3" y="497.8" font-size="8.6" fill="#111" stroke="#111" stroke-width="0.22" text-anchor="middle" font-weight="normal" >*</text>
<text x="51.8" y="507.3" font-size="10.3" fill="#dc6420" stroke="#dc6420" stroke-width="0.22" text-anchor="end" font-weight="normal" >143</text>
<rect x="76.3" y="500.0" width="5.1" height="7.2" fill="#e9506f" stroke="#222" stroke-width="0.9"/>
<text x="51.8" y="517.3" font-size="10.3" fill="#dc6420" stroke="#dc6420" stroke-width="0.22" text-anchor="end" font-weight="normal" >13</text>
<rect x="74.6" y="510.0" width="6.8" height="7.2" fill="#e9506f" stroke="#222" stroke-width="0.9"/>
<text x="151.3" y="517.9" font-size="8.6" fill="#111" stroke="#111" stroke-width="0.22" text-anchor="middle" font-weight="normal" >**</text>
<text x="51.8" y="527.3" font-size="10.3" fill="#dc6420" stroke="#dc6420" stroke-width="0.22" text-anchor="end" font-weight="normal" >100</text>
<rect x="73.4" y="520.0" width="8.0" height="7.2" fill="#e9506f" stroke="#222" stroke-width="0.9"/>
<text x="151.3" y="527.9" font-size="8.6" fill="#111" stroke="#111" stroke-width="0.22" text-anchor="middle" font-weight="normal" >*</text>
<text x="51.8" y="537.3" font-size="10.3" fill="#1b8fcf" stroke="#1b8fcf" stroke-width="0.22" text-anchor="end" font-weight="normal" >280</text>
<rect x="72.2" y="530.0" width="9.2" height="7.2" fill="#e9506f" stroke="#222" stroke-width="0.9"/>
<text x="151.3" y="537.9" font-size="8.6" fill="#111" stroke="#111" stroke-width="0.22" text-anchor="middle" font-weight="normal" >*</text>
<text x="51.8" y="547.3" font-size="10.3" fill="#dc6420" stroke="#dc6420" stroke-width="0.22" text-anchor="end" font-weight="normal" >20</text>
<rect x="71.9" y="540.0" width="9.5" height="7.2" fill="#e9506f" stroke="#222" stroke-width="0.9"/>
<text x="151.3" y="547.9" font-size="8.6" fill="#111" stroke="#111" stroke-width="0.22" text-anchor="middle" font-weight="normal" >**</text>
<text x="51.8" y="557.3" font-size="10.3" fill="#1b8fcf" stroke="#1b8fcf" stroke-width="0.22" text-anchor="end" font-weight="normal" >34</text>
<rect x="71.4" y="550.0" width="10.0" height="7.2" fill="#e9506f" stroke="#222" stroke-width="0.9"/>
<text x="151.3" y="557.9" font-size="8.6" fill="#111" stroke="#111" stroke-width="0.22" text-anchor="middle" font-weight="normal" >*</text>
<text x="51.8" y="567.3" font-size="10.3" fill="#1b8fcf" stroke="#1b8fcf" stroke-width="0.22" text-anchor="end" font-weight="normal" >101</text>
<rect x="71.4" y="560.0" width="10.0" height="7.2" fill="#e9506f" stroke="#222" stroke-width="0.9"/>
<text x="151.3" y="567.9" font-size="8.6" fill="#111" stroke="#111" stroke-width="0.22" text-anchor="middle" font-weight="normal" >*</text>
<text x="51.8" y="577.3" font-size="10.3" fill="#dc6420" stroke="#dc6420" stroke-width="0.22" text-anchor="end" font-weight="normal" >138</text>
<rect x="70.2" y="570.0" width="11.2" height="7.2" fill="#e9506f" stroke="#222" stroke-width="0.9"/>
<text x="151.3" y="577.9" font-size="8.6" fill="#111" stroke="#111" stroke-width="0.22" text-anchor="middle" font-weight="normal" >**</text>
<text x="51.8" y="587.3" font-size="10.3" fill="#dc6420" stroke="#dc6420" stroke-width="0.22" text-anchor="end" font-weight="normal" >187</text>
<rect x="69.8" y="580.0" width="11.6" height="7.2" fill="#e9506f" stroke="#222" stroke-width="0.9"/>
<text x="151.3" y="587.9" font-size="8.6" fill="#111" stroke="#111" stroke-width="0.22" text-anchor="middle" font-weight="normal" >**</text>
<text x="51.8" y="597.4" font-size="10.3" fill="#dc6420" stroke="#dc6420" stroke-width="0.22" text-anchor="end" font-weight="normal" >19</text>
<rect x="63.5" y="590.0" width="17.9" height="7.2" fill="#e9506f" stroke="#222" stroke-width="0.9"/>
<text x="151.3" y="597.9" font-size="8.6" fill="#111" stroke="#111" stroke-width="0.22" text-anchor="middle" font-weight="normal" >*</text>
<text x="58.3" y="616.5" font-size="10.6" fill="#111" stroke="#111" stroke-width="0.22" text-anchor="middle" font-weight="normal" >-2</text>
<text x="81.4" y="616.5" font-size="10.6" fill="#111" stroke="#111" stroke-width="0.22" text-anchor="middle" font-weight="normal" >0</text>
<text x="104.5" y="616.5" font-size="10.6" fill="#111" stroke="#111" stroke-width="0.22" text-anchor="middle" font-weight="normal" >2</text>
<text x="127.6" y="616.5" font-size="10.6" fill="#111" stroke="#111" stroke-width="0.22" text-anchor="middle" font-weight="normal" >4</text>
<text x="150.8" y="616.5" font-size="10.6" fill="#111" stroke="#111" stroke-width="0.22" text-anchor="middle" font-weight="normal" >6</text>
<text x="46.8" y="627" font-size="11" fill="#111">Log<tspan font-size="7.5" dy="3.2">2</tspan><tspan dy="-3.2">(Activated/Control)</tspan></text>
<text transform="translate(28,500) rotate(-90)" font-size="11" fill="#111">Metabolite ID</text>
<text x="102.4" y="644.8" font-size="11" fill="#1b8fcf" stroke="#1b8fcf" stroke-width="0.12" text-anchor="middle" font-weight="bold" >Primary Bile Acid</text>
<text x="102.8" y="656.2" font-size="12.0" fill="#dc6420" stroke="#dc6420" stroke-width="0.12" text-anchor="middle" font-weight="bold" >Secondary Bile Acid</text>
<rect x="189.7" y="356.5" width="249.5" height="10.3" fill="#c8e3ad"/>
<rect x="439.2" y="356.5" width="261.40000000000003" height="10.3" fill="#f6c9d6"/>
<rect x="189.7" y="367.3" width="510.90000000000003" height="11.6" fill="#c4c1c1"/>
<g stroke="#1a1a1a" stroke-width="1.3" fill="none">
<path d="M189.7,646.0 V339.0 H700.6 V581.7 H439.2"/>
<line x1="189.7" y1="356.1" x2="700.6" y2="356.1"/>
<line x1="189.7" y1="367.0" x2="700.6" y2="367.0"/>
<line x1="189.7" y1="378.7" x2="700.6" y2="378.7"/>
<line x1="439.2" y1="356.1" x2="439.2" y2="646.0"/>
<line x1="189.7" y1="646.0" x2="439.2" y2="646.0"/>
<line x1="212.9" y1="367.0" x2="212.9" y2="646.0"/>
<line x1="385.0" y1="367.0" x2="385.0" y2="646.0"/>
<line x1="462.3" y1="367.0" x2="462.3" y2="581.7"/>
<line x1="640.6" y1="367.0" x2="640.6" y2="581.7"/>
<line x1="189.7" y1="400.3" x2="439.2" y2="400.3"/>
<line x1="189.7" y1="412.5" x2="439.2" y2="412.5"/>
<line x1="189.7" y1="434.7" x2="439.2" y2="434.7"/>
<line x1="189.7" y1="446.3" x2="439.2" y2="446.3"/>
<line x1="189.7" y1="468.3" x2="439.2" y2="468.3"/>
<line x1="189.7" y1="480.7" x2="439.2" y2="480.7"/>
<line x1="189.7" y1="491.9" x2="439.2" y2="491.9"/>
<line x1="189.7" y1="514.6" x2="439.2" y2="514.6"/>
<line x1="189.7" y1="537.1" x2="439.2" y2="537.1"/>
<line x1="189.7" y1="560.6" x2="439.2" y2="560.6"/>
<line x1="189.7" y1="581.7" x2="439.2" y2="581.7"/>
<line x1="189.7" y1="597.7" x2="439.2" y2="597.7"/>
<line x1="189.7" y1="614.2" x2="439.2" y2="614.2"/>
<line x1="189.7" y1="630.6" x2="439.2" y2="630.6"/>
<line x1="439.2" y1="400.3" x2="700.6" y2="400.3"/>
<line x1="439.2" y1="412.5" x2="700.6" y2="412.5"/>
<line x1="439.2" y1="434.7" x2="700.6" y2="434.7"/>
<line x1="439.2" y1="446.3" x2="700.6" y2="446.3"/>
<line x1="439.2" y1="468.3" x2="700.6" y2="468.3"/>
<line x1="439.2" y1="480.7" x2="700.6" y2="480.7"/>
<line x1="439.2" y1="491.9" x2="700.6" y2="491.9"/>
<line x1="439.2" y1="514.6" x2="700.6" y2="514.6"/>
<line x1="439.2" y1="537.1" x2="700.6" y2="537.1"/>
<line x1="439.2" y1="560.6" x2="700.6" y2="560.6"/>
</g>
<text x="404.6" y="351.4" font-size="11.6" font-weight="bold">ChAT<tspan font-size="7.5" dy="-3.6" dx="0.3">+</tspan><tspan dy="3.6"> Cecum</tspan></text>
<text x="314.4" y="365.0" font-size="9.1" fill="#111" stroke="#111" stroke-width="0.12" text-anchor="middle" font-weight="bold" >Activated &gt; Control</text>
<text x="569.9" y="365.0" font-size="9.1" fill="#111" stroke="#111" stroke-width="0.12" text-anchor="middle" font-weight="bold" >Activated &lt; Control</text>
<text x="201.3" y="375.8" font-size="9.8" fill="#111" stroke="#111" stroke-width="0.12" text-anchor="middle" font-weight="bold" >ID</text>
<text x="298.9" y="375.9" font-size="9.0" fill="#111" stroke="#111" stroke-width="0.12" text-anchor="middle" font-weight="bold" >GNPS Annotation</text>
<text x="412.1" y="375.6" font-size="6.8" fill="#111" stroke="#111" stroke-width="0.12" text-anchor="middle" font-weight="bold" >Adduct</text>
<text x="450.8" y="375.8" font-size="9.8" fill="#111" stroke="#111" stroke-width="0.12" text-anchor="middle" font-weight="bold" >ID</text>
<text x="551.5" y="375.9" font-size="9.0" fill="#111" stroke="#111" stroke-width="0.12" text-anchor="middle" font-weight="bold" >GNPS Annotation</text>
<text x="670.6" y="375.6" font-size="6.8" fill="#111" stroke="#111" stroke-width="0.12" text-anchor="middle" font-weight="bold" >Adduct</text>
<text x="201.6" y="393.6" font-size="10.1" fill="#1b8fcf" stroke="#1b8fcf" stroke-width="0.22" text-anchor="middle" font-weight="normal" >215</text>
<text x="298.9" y="393.4" font-size="9.2" fill="#111" stroke="#111" stroke-width="0.22" text-anchor="middle" font-weight="normal" >Cholic acid</text>
<text x="412.1" y="393.4" font-size="9.2" fill="#111" stroke="#111" stroke-width="0.22" text-anchor="middle" font-weight="normal" >2M+H</text>
<text x="201.6" y="410.2" font-size="10.1" fill="#1b8fcf" stroke="#1b8fcf" stroke-width="0.22" text-anchor="middle" font-weight="normal" >219</text>
<text x="298.9" y="410.1" font-size="9.2" fill="#111" stroke="#111" stroke-width="0.22" text-anchor="middle" font-weight="normal" >Cholic acid</text>
<text x="412.1" y="410.1" font-size="9.2" fill="#111" stroke="#111" stroke-width="0.22" text-anchor="middle" font-weight="normal" >2M+Na</text>
<text x="201.6" y="427.4" font-size="10.1" fill="#dc6420" stroke="#dc6420" stroke-width="0.22" text-anchor="middle" font-weight="normal" >218</text>
<text x="298.9" y="421.5" font-size="9.2" fill="#111" stroke="#111" stroke-width="0.22" text-anchor="middle" font-weight="normal" >7-Keto-3.alpha.,12-.alpha.-</text>
<text x="298.9" y="432.4" font-size="9.2" fill="#111" stroke="#111" stroke-width="0.22" text-anchor="middle" font-weight="normal" >dihydroxycholanic acid</text>
<text x="412.1" y="427.3" font-size="9.2" fill="#111" stroke="#111" stroke-width="0.22" text-anchor="middle" font-weight="normal" >M+H-3H2O</text>
<text x="201.6" y="444.3" font-size="10.1" fill="#1b8fcf" stroke="#1b8fcf" stroke-width="0.22" text-anchor="middle" font-weight="normal" >108</text>
<text x="298.9" y="444.2" font-size="9.2" fill="#111" stroke="#111" stroke-width="0.22" text-anchor="middle" font-weight="normal" >Cholic acid</text>
<text x="412.1" y="444.2" font-size="9.2" fill="#111" stroke="#111" stroke-width="0.22" text-anchor="middle" font-weight="normal" >M-3H2O+H</text>
<text x="201.6" y="461.1" font-size="10.1" fill="#1b8fcf" stroke="#1b8fcf" stroke-width="0.22" text-anchor="middle" font-weight="normal" >221</text>
<text x="298.9" y="461.0" font-size="9.2" fill="#111" stroke="#111" stroke-width="0.22" text-anchor="middle" font-weight="normal" >Cholic acid</text>
<text x="412.1" y="461.0" font-size="9.2" fill="#111" stroke="#111" stroke-width="0.22" text-anchor="middle" font-weight="normal" >3M+H</text>
<text x="201.6" y="478.3" font-size="10.1" fill="#1b8fcf" stroke="#1b8fcf" stroke-width="0.22" text-anchor="middle" font-weight="normal" >114</text>
<text x="298.9" y="478.2" font-size="9.2" fill="#111" stroke="#111" stroke-width="0.22" text-anchor="middle" font-weight="normal" >Cholic acid</text>
<text x="412.1" y="478.2" font-size="9.2" fill="#111" stroke="#111" stroke-width="0.22" text-anchor="middle" font-weight="normal" >M+Na</text>
<text x="201.6" y="490.1" font-size="10.1" fill="#1b8fcf" stroke="#1b8fcf" stroke-width="0.22" text-anchor="middle" font-weight="normal" >259</text>
<text x="298.9" y="490.0" font-size="9.2" fill="#111" stroke="#111" stroke-width="0.22" text-anchor="middle" font-weight="normal" >Cholic Acid</text>
<text x="412.1" y="490.0" font-size="9.2" fill="#111" stroke="#111" stroke-width="0.22" text-anchor="middle" font-weight="normal" >[M+NH4]+</text>
<text x="201.6" y="507.1" font-size="10.1" fill="#1b8fcf" stroke="#1b8fcf" stroke-width="0.22" text-anchor="middle" font-weight="normal" >224</text>
<text x="298.9" y="506.9" font-size="9.2" fill="#111" stroke="#111" stroke-width="0.22" text-anchor="middle" font-weight="normal" >Cholic acid</text>
<text x="412.1" y="506.9" font-size="9.2" fill="#111" stroke="#111" stroke-width="0.22" text-anchor="middle" font-weight="normal" >3M+Na</text>
<text x="201.6" y="529.6" font-size="10.1" fill="#1b8fcf" stroke="#1b8fcf" stroke-width="0.22" text-anchor="middle" font-weight="normal" >235</text>
<text x="298.9" y="529.6" font-size="9.2" fill="#111" stroke="#111" stroke-width="0.22" text-anchor="middle" font-weight="normal" >taurohyocholic acid</text>
<text x="412.1" y="529.6" font-size="9.2" fill="#111" stroke="#111" stroke-width="0.22" text-anchor="middle" font-weight="normal" >M+H</text>
<text x="201.6" y="552.6" font-size="10.1" fill="#1b8fcf" stroke="#1b8fcf" stroke-width="0.22" text-anchor="middle" font-weight="normal" >234</text>
<text x="298.9" y="546.7" font-size="9.2" fill="#111" stroke="#111" stroke-width="0.22" text-anchor="middle" font-weight="normal" >Spectral Match to Taurocholic acid</text>
<text x="298.9" y="557.6" font-size="9.2" fill="#111" stroke="#111" stroke-width="0.22" text-anchor="middle" font-weight="normal" >(NIST14)</text>
<text x="412.1" y="552.6" font-size="9.2" fill="#111" stroke="#111" stroke-width="0.22" text-anchor="middle" font-weight="normal" >M+H</text>
<text x="201.6" y="575.0" font-size="10.1" fill="#1b8fcf" stroke="#1b8fcf" stroke-width="0.22" text-anchor="middle" font-weight="normal" >248</text>
<text x="298.9" y="569.0" font-size="9.2" fill="#111" stroke="#111" stroke-width="0.22" text-anchor="middle" font-weight="normal" >Spectral Match to Taurocholic acid</text>
<text x="298.9" y="579.9" font-size="9.2" fill="#111" stroke="#111" stroke-width="0.22" text-anchor="middle" font-weight="normal" >(NIST14)</text>
<text x="412.1" y="574.9" font-size="9.2" fill="#111" stroke="#111" stroke-width="0.22" text-anchor="middle" font-weight="normal" >M+Na</text>
<text x="201.6" y="593.5" font-size="10.1" fill="#1b8fcf" stroke="#1b8fcf" stroke-width="0.22" text-anchor="middle" font-weight="normal" >245</text>
<text x="298.9" y="593.4" font-size="9.2" fill="#111" stroke="#111" stroke-width="0.22" text-anchor="middle" font-weight="normal" >taurohyocholic acid</text>
<text x="412.1" y="593.4" font-size="9.2" fill="#111" stroke="#111" stroke-width="0.22" text-anchor="middle" font-weight="normal" >M-2H2O+H</text>
<text x="201.6" y="609.8" font-size="10.1" fill="#1b8fcf" stroke="#1b8fcf" stroke-width="0.22" text-anchor="middle" font-weight="normal" >272</text>
<text x="298.9" y="609.7" font-size="9.2" fill="#111" stroke="#111" stroke-width="0.22" text-anchor="middle" font-weight="normal" >Spectral Match to Cholic acid (NIST14)</text>
<text x="412.1" y="609.7" font-size="9.2" fill="#111" stroke="#111" stroke-width="0.22" text-anchor="middle" font-weight="normal" >M+H-2H2O</text>
<text x="201.6" y="626.2" font-size="10.1" fill="#1b8fcf" stroke="#1b8fcf" stroke-width="0.22" text-anchor="middle" font-weight="normal" >102</text>
<text x="298.9" y="626.1" font-size="9.2" fill="#111" stroke="#111" stroke-width="0.22" text-anchor="middle" font-weight="normal" >.beta.-Muricholic acid</text>
<text x="412.1" y="626.1" font-size="9.2" fill="#111" stroke="#111" stroke-width="0.22" text-anchor="middle" font-weight="normal" >M+H-H2O</text>
<text x="201.6" y="642.1" font-size="10.1" fill="#1b8fcf" stroke="#1b8fcf" stroke-width="0.22" text-anchor="middle" font-weight="normal" >99</text>
<text x="298.9" y="642.0" font-size="9.2" fill="#111" stroke="#111" stroke-width="0.22" text-anchor="middle" font-weight="normal" >hyocholic acid</text>
<text x="412.1" y="642.0" font-size="9.2" fill="#111" stroke="#111" stroke-width="0.22" text-anchor="middle" font-weight="normal" >M-2H2O+H</text>
<text x="451.1" y="393.6" font-size="10.1" fill="#dc6420" stroke="#dc6420" stroke-width="0.22" text-anchor="middle" font-weight="normal" >19</text>
<text x="551.5" y="387.6" font-size="9.2" fill="#111" stroke="#111" stroke-width="0.22" text-anchor="middle" font-weight="normal" >Spectral Match to 12-Ketodeoxycholic</text>
<text x="551.5" y="398.5" font-size="9.2" fill="#111" stroke="#111" stroke-width="0.22" text-anchor="middle" font-weight="normal" >acid (NIST14)</text>
<text x="670.6" y="393.4" font-size="9.2" fill="#111" stroke="#111" stroke-width="0.22" text-anchor="middle" font-weight="normal" >M+H</text>
<text x="451.1" y="410.2" font-size="10.1" fill="#dc6420" stroke="#dc6420" stroke-width="0.22" text-anchor="middle" font-weight="normal" >187</text>
<text x="551.5" y="410.1" font-size="9.2" fill="#111" stroke="#111" stroke-width="0.22" text-anchor="middle" font-weight="normal" >hyocholic acid</text>
<text x="670.6" y="410.1" font-size="9.2" fill="#111" stroke="#111" stroke-width="0.22" text-anchor="middle" font-weight="normal" >M-2H2O+H</text>
<text x="451.1" y="427.4" font-size="10.1" fill="#dc6420" stroke="#dc6420" stroke-width="0.22" text-anchor="middle" font-weight="normal" >138</text>
<text x="551.5" y="421.5" font-size="9.2" fill="#111" stroke="#111" stroke-width="0.22" text-anchor="middle" font-weight="normal" >Spectral Match to 12-Ketodeoxycholic</text>
<text x="551.5" y="432.4" font-size="9.2" fill="#111" stroke="#111" stroke-width="0.22" text-anchor="middle" font-weight="normal" >acid (NIST14)</text>
<text x="670.6" y="427.3" font-size="9.2" fill="#111" stroke="#111" stroke-width="0.22" text-anchor="middle" font-weight="normal" >M+H</text>
<text x="451.1" y="444.3" font-size="10.1" fill="#1b8fcf" stroke="#1b8fcf" stroke-width="0.22" text-anchor="middle" font-weight="normal" >101</text>
<text x="551.5" y="444.2" font-size="9.2" fill="#111" stroke="#111" stroke-width="0.22" text-anchor="middle" font-weight="normal" >.beta.-Muricholic acid</text>
<text x="670.6" y="444.2" font-size="9.2" fill="#111" stroke="#111" stroke-width="0.22" text-anchor="middle" font-weight="normal" >M+H-3H2O</text>
<text x="451.1" y="461.1" font-size="10.1" fill="#1b8fcf" stroke="#1b8fcf" stroke-width="0.22" text-anchor="middle" font-weight="normal" >34</text>
<text x="551.5" y="455.2" font-size="9.2" fill="#111" stroke="#111" stroke-width="0.22" text-anchor="middle" font-weight="normal" >3.alpha.-Hydroxy-7-oxo-5.beta.-cholanic</text>
<text x="551.5" y="466.1" font-size="9.2" fill="#111" stroke="#111" stroke-width="0.22" text-anchor="middle" font-weight="normal" >acid</text>
<text x="670.6" y="461.0" font-size="9.2" fill="#111" stroke="#111" stroke-width="0.22" text-anchor="middle" font-weight="normal" >M+H-H2O</text>
<text x="451.1" y="478.3" font-size="10.1" fill="#dc6420" stroke="#dc6420" stroke-width="0.22" text-anchor="middle" font-weight="normal" >20</text>
<text x="551.5" y="478.2" font-size="9.2" fill="#111" stroke="#111" stroke-width="0.22" text-anchor="middle" font-weight="normal" >.alpha.-Hyodeoxycholic acid methyl ester</text>
<text x="670.6" y="478.2" font-size="9.2" fill="#111" stroke="#111" stroke-width="0.22" text-anchor="middle" font-weight="normal" >M+H-CH6O2</text>
<text x="451.1" y="490.1" font-size="10.1" fill="#1b8fcf" stroke="#1b8fcf" stroke-width="0.22" text-anchor="middle" font-weight="normal" >280</text>
<text x="551.5" y="490.0" font-size="9.2" fill="#111" stroke="#111" stroke-width="0.22" text-anchor="middle" font-weight="normal" >.gamma.-Muricholic acid/hyocholic acid</text>
<text x="670.6" y="490.0" font-size="9.2" fill="#111" stroke="#111" stroke-width="0.22" text-anchor="middle" font-weight="normal" >M+H-H2O</text>
<text x="451.1" y="507.1" font-size="10.1" fill="#dc6420" stroke="#dc6420" stroke-width="0.22" text-anchor="middle" font-weight="normal" >100</text>
<text x="551.5" y="501.1" font-size="9.2" fill="#111" stroke="#111" stroke-width="0.22" text-anchor="middle" font-weight="normal" >Spectral Match to Deoxycholic acid</text>
<text x="551.5" y="512.0" font-size="9.2" fill="#111" stroke="#111" stroke-width="0.22" text-anchor="middle" font-weight="normal" >(NIST14)</text>
<text x="670.6" y="506.9" font-size="9.2" fill="#111" stroke="#111" stroke-width="0.22" text-anchor="middle" font-weight="normal" >2M+H</text>
<text x="451.1" y="529.6" font-size="10.1" fill="#dc6420" stroke="#dc6420" stroke-width="0.22" text-anchor="middle" font-weight="normal" >13</text>
<text x="551.5" y="523.7" font-size="9.2" fill="#111" stroke="#111" stroke-width="0.22" text-anchor="middle" font-weight="normal" >Spectral Match to Ursodeoxycholic acid</text>
<text x="551.5" y="534.6" font-size="9.2" fill="#111" stroke="#111" stroke-width="0.22" text-anchor="middle" font-weight="normal" >(NIST14)</text>
<text x="670.6" y="529.6" font-size="9.2" fill="#111" stroke="#111" stroke-width="0.22" text-anchor="middle" font-weight="normal" >M+H-H2O</text>
<text x="451.1" y="552.6" font-size="10.1" fill="#dc6420" stroke="#dc6420" stroke-width="0.22" text-anchor="middle" font-weight="normal" >143</text>
<text x="551.5" y="552.6" font-size="9.2" fill="#111" stroke="#111" stroke-width="0.22" text-anchor="middle" font-weight="normal" >.beta.-Hyodeoxycholic acid</text>
<text x="670.6" y="552.6" font-size="9.2" fill="#111" stroke="#111" stroke-width="0.22" text-anchor="middle" font-weight="normal" >M+H-H2O</text>
<text x="451.1" y="575.0" font-size="10.1" fill="#dc6420" stroke="#dc6420" stroke-width="0.22" text-anchor="middle" font-weight="normal" >1</text>
<text x="551.5" y="574.9" font-size="9.2" fill="#111" stroke="#111" stroke-width="0.22" text-anchor="middle" font-weight="normal" >.beta.-Hyodeoxycholic acid</text>
<text x="670.6" y="574.9" font-size="9.2" fill="#111" stroke="#111" stroke-width="0.22" text-anchor="middle" font-weight="normal" >M+H-2H2O</text>
<text x="565.6" y="621.2" font-size="11.1" fill="#1b8fcf" stroke="#1b8fcf" stroke-width="0.12" text-anchor="middle" font-weight="bold" >Primary Bile Acid</text>
<text x="565.4" y="634.0" font-size="11.9" fill="#dc6420" stroke="#dc6420" stroke-width="0.12" text-anchor="middle" font-weight="bold" >Secondary Bile Acid</text>
<rect x="1" y="1" width="710" height="659" fill="none" stroke="#000" stroke-width="2"/>
</svg></body></html>
